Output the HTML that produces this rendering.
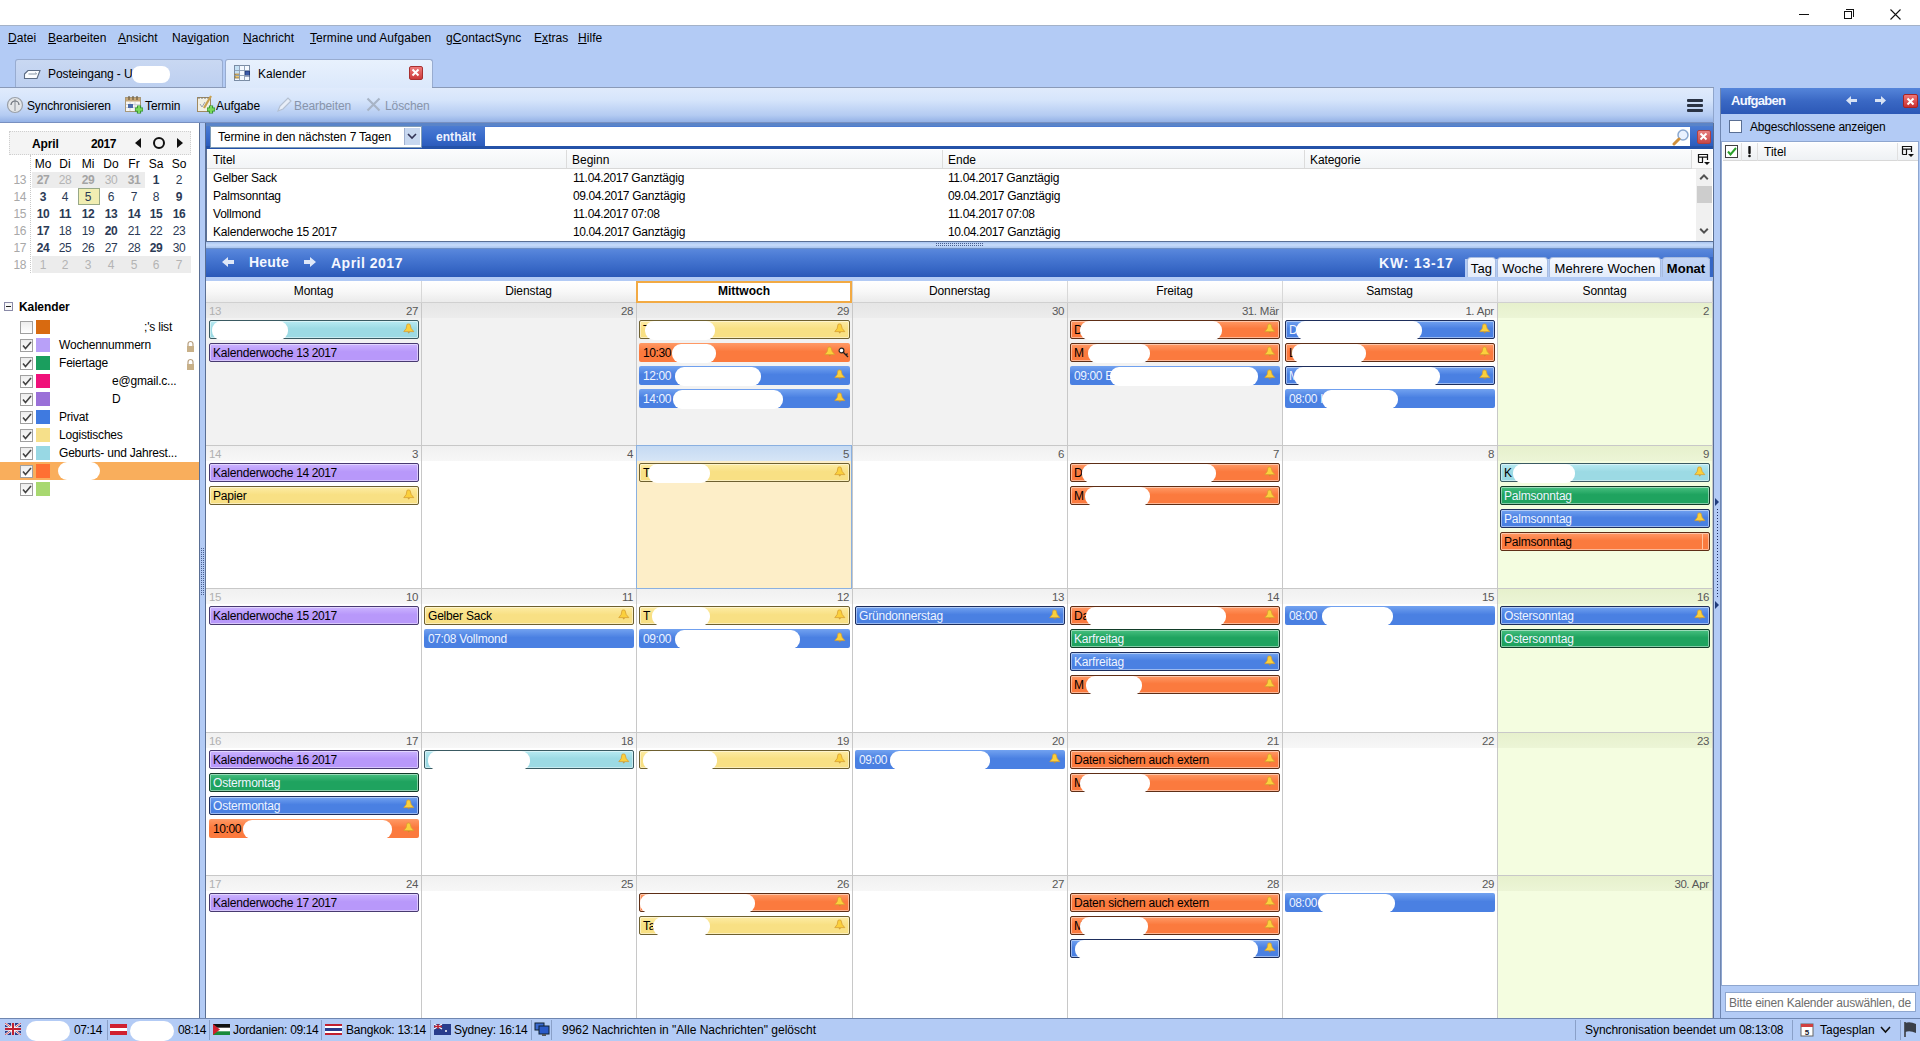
<!DOCTYPE html><html><head><meta charset="utf-8"><style>
*{margin:0;padding:0;box-sizing:border-box}
html,body{width:1920px;height:1041px;overflow:hidden;background:#fff;font-family:"Liberation Sans", sans-serif;font-size:12px;color:#000}
div{position:absolute}
.t{white-space:nowrap;line-height:14px;font-size:12px}
.e{letter-spacing:-0.2px}
.blob{background:#fff}
</style></head><body>
<div style="left:0px;top:0px;width:1920px;height:25px;background:#fff"></div>
<div style="left:1799px;top:14px;width:10px;height:1px;background:#111"></div>
<div style="left:1844px;top:11px;width:8px;height:8px;border:1px solid #111;background:#fff"></div>
<div style="left:1846px;top:9px;width:8px;height:8px;border-top:1px solid #111;border-right:1px solid #111"></div>
<svg style="position:absolute;left:1890px;top:9px" width="11" height="11" viewBox="0 0 11 11"><path d="M0.5 0.5L10.5 10.5M10.5 0.5L0.5 10.5" stroke="#111" stroke-width="1.1"/></svg>
<div style="left:0px;top:25px;width:1920px;height:63px;background:#b3cbf5;border-top:1px solid #a4b2c8"></div>
<div class="t" style="left:8px;top:31px;letter-spacing:0.05px"><u>D</u>atei</div>
<div class="t" style="left:48px;top:31px;letter-spacing:0.05px"><u>B</u>earbeiten</div>
<div class="t" style="left:118px;top:31px;letter-spacing:0.05px"><u>A</u>nsicht</div>
<div class="t" style="left:172px;top:31px;letter-spacing:0.05px">Na<u>v</u>igation</div>
<div class="t" style="left:243px;top:31px;letter-spacing:0.05px"><u>N</u>achricht</div>
<div class="t" style="left:310px;top:31px;letter-spacing:0.05px"><u>T</u>ermine und Aufgaben</div>
<div class="t" style="left:446px;top:31px;letter-spacing:0.05px">g<u>C</u>ontactSync</div>
<div class="t" style="left:534px;top:31px;letter-spacing:0.05px">E<u>x</u>tras</div>
<div class="t" style="left:578px;top:31px;letter-spacing:0.05px"><u>H</u>ilfe</div>
<div style="left:15px;top:59px;width:208px;height:29px;background:linear-gradient(#c9d8f2,#bccff0);border:1px solid #98acd0;border-bottom:none;border-radius:3px 3px 0 0"></div>
<div class="t" style="left:48px;top:67px;letter-spacing:-0.1px">Posteingang - U</div>
<div class="blob" style="left:132px;top:66px;width:38px;height:17px;border-radius:8px"></div>
<svg style="position:absolute;left:23px;top:69px" width="18" height="11" viewBox="0 0 18 11"><path d="M1.5 5L5 1.5H17L14 9.5H1.5Z" fill="#fbfdff" stroke="#5c6c84" stroke-width="1.1"/><path d="M5.5 5H13.5L12.5 3.5" fill="none" stroke="#8a98a8" stroke-width="1"/></svg>
<div style="left:225px;top:59px;width:208px;height:30px;background:linear-gradient(#e8f1fd,#dbe8fb);border:1px solid #98acd0;border-bottom:none;border-radius:3px 3px 0 0"></div>
<div class="t" style="left:258px;top:67px;">Kalender</div>
<svg style="position:absolute;left:233px;top:64px" width="18" height="18" viewBox="0 0 18 18"><rect x="1.5" y="1.5" width="15" height="15" fill="#f4f9ff" stroke="#7a8ca4"/><rect x="2" y="2" width="4.5" height="7" fill="#c4e0f4"/><rect x="12" y="7" width="4.5" height="5" fill="#3a5aa8" stroke="#1a2e6a" stroke-width="0.8"/><rect x="2" y="10" width="4.5" height="4" fill="#e8c878" stroke="#8a6a30" stroke-width="0.8"/><path d="M6.5 1.5V16.5M11.5 1.5V16.5M1.5 6.5H16.5M1.5 11.5H16.5" stroke="#8a9cb4" stroke-width="0.9"/></svg>
<div style="left:409px;top:66px;width:14px;height:14px;background:linear-gradient(#ee7a7a,#cc3a3a);border:1px solid #a83030;border-radius:2px"></div>
<svg style="position:absolute;left:411px;top:68px" width="9" height="9" viewBox="0 0 9 9"><path d="M1.5 1.5L7.5 7.5M7.5 1.5L1.5 7.5" stroke="#fff" stroke-width="2"/></svg>
<div style="left:0px;top:87px;width:1714px;height:36px;background:linear-gradient(#e0ebfc 0%,#d6e5fb 35%,#b4cbf2 80%,#94b2e6 100%);border-top:1px solid #8a9ab8;border-bottom:1px solid #7890c0"></div>
<div style="left:226px;top:87px;width:206px;height:1px;background:#dce9fb"></div>
<div class="t" style="left:27px;top:99px;color:#000;letter-spacing:-0.15px">Synchronisieren</div>
<div class="t" style="left:145px;top:99px;color:#000;letter-spacing:-0.1px">Termin</div>
<div class="t" style="left:216px;top:99px;color:#000;letter-spacing:-0.1px">Aufgabe</div>
<div class="t" style="left:294px;top:99px;color:#8794aa;letter-spacing:-0.1px">Bearbeiten</div>
<div class="t" style="left:385px;top:99px;color:#8794aa;letter-spacing:-0.1px">Löschen</div>
<svg style="position:absolute;left:6px;top:96px" width="18" height="18" viewBox="0 0 18 18"><circle cx="9" cy="9" r="7.5" fill="#e4e6e8" stroke="#9aa0a8" stroke-width="1.2"/><path d="M9 3V15" stroke="#8a9098" stroke-width="1"/><path d="M5 9A4 4 0 0 1 13 9" fill="none" stroke="#6a7078" stroke-width="1.2"/></svg>
<svg style="position:absolute;left:124px;top:95px" width="20" height="20" viewBox="0 0 20 20"><rect x="1.5" y="2.5" width="15" height="14" fill="#f8f8f4" stroke="#a89878"/><rect x="2" y="3" width="14" height="3.5" fill="#c8a878"/><path d="M5 1V5M9 1V5M13 1V5" stroke="#6a5a40" stroke-width="1.2"/><path d="M2 9.5H16M2 12.5H16M6 7V16M11 7V16" stroke="#c8ccd8" stroke-width="0.8"/><rect x="4" y="9" width="5" height="4" fill="#4a6aa8"/><path d="M15 10.5V18.5M11 14.5H19" stroke="#2a8a2a" stroke-width="4.2"/><path d="M15 11V18M11.5 14.5H18.5" stroke="#7ad85a" stroke-width="2.4"/></svg>
<svg style="position:absolute;left:196px;top:95px" width="20" height="20" viewBox="0 0 20 20"><rect x="1.5" y="2.5" width="13" height="14" fill="#f2f0e4" stroke="#a08a60"/><path d="M3 2V4M6 2V4M9 2V4M12 2V4" stroke="#777" stroke-width="1"/><path d="M4 9L6 12L9 7" fill="none" stroke="#9aa0b0" stroke-width="1"/><path d="M15 1L8 13" stroke="#c8a050" stroke-width="2.2"/><path d="M15 10.5V18.5M11 14.5H19" stroke="#2a8a2a" stroke-width="4.2"/><path d="M15 11V18M11.5 14.5H18.5" stroke="#7ad85a" stroke-width="2.4"/></svg>
<svg style="position:absolute;left:276px;top:96px" width="17" height="17" viewBox="0 0 17 17"><path d="M2 15L4 10L12 2L15 5L7 13Z" fill="#e8eef8" stroke="#b4c0d2" stroke-width="1.2"/></svg>
<svg style="position:absolute;left:366px;top:97px" width="15" height="15" viewBox="0 0 15 15"><path d="M1.5 1.5L13.5 13.5M13.5 1.5L1.5 13.5" stroke="#a8b4c6" stroke-width="2.2"/></svg>
<div style="left:1687px;top:99px;width:16px;height:3px;background:#2a3344;border-radius:1px"></div>
<div style="left:1687px;top:104px;width:16px;height:3px;background:#2a3344;border-radius:1px"></div>
<div style="left:1687px;top:109px;width:16px;height:3px;background:#2a3344;border-radius:1px"></div>
<div style="left:0px;top:123px;width:199px;height:895px;background:#fff"></div>
<div style="left:199px;top:123px;width:1px;height:895px;background:#5a6f94"></div>
<div style="left:200px;top:123px;width:5px;height:895px;background:#b3cbf5"></div>
<div style="left:205px;top:123px;width:1px;height:895px;background:#5a6f94"></div>
<svg style="position:absolute;left:200px;top:548px" width="5" height="47" viewBox="0 0 5 47"><defs><pattern id="gp" width="5" height="2" patternUnits="userSpaceOnUse"><rect x="1" y="0" width="1" height="1" fill="#4a5f90"/><rect x="3" y="0" width="1" height="1" fill="#4a5f90"/></pattern></defs><rect width="5" height="47" fill="url(#gp)"/></svg>
<div style="left:9px;top:131px;width:182px;height:24px;background:#f4f4f4;border:1px dotted #cfcfcf"></div>
<div class="t" style="left:32px;top:137px;font-weight:bold;letter-spacing:-0.1px">April</div>
<div class="t" style="left:91px;top:137px;font-weight:bold;letter-spacing:-0.4px">2017</div>
<svg style="position:absolute;left:134px;top:138px" width="8" height="10" viewBox="0 0 8 10"><path d="M7 0L1 5L7 10Z" fill="#111"/></svg>
<div style="left:153px;top:137px;width:12px;height:12px;border:2px solid #111;border-radius:50%"></div>
<svg style="position:absolute;left:176px;top:138px" width="8" height="10" viewBox="0 0 8 10"><path d="M1 0L7 5L1 10Z" fill="#111"/></svg>
<div class="t" style="left:33px;top:157px;width:20px;text-align:center">Mo</div>
<div class="t" style="left:55px;top:157px;width:20px;text-align:center">Di</div>
<div class="t" style="left:78px;top:157px;width:20px;text-align:center">Mi</div>
<div class="t" style="left:101px;top:157px;width:20px;text-align:center">Do</div>
<div class="t" style="left:124px;top:157px;width:20px;text-align:center">Fr</div>
<div class="t" style="left:146px;top:157px;width:20px;text-align:center">Sa</div>
<div class="t" style="left:169px;top:157px;width:20px;text-align:center">So</div>
<div style="left:30px;top:155px;width:1px;height:118px;border-left:1px dotted #c8c8c8"></div>
<div style="left:32px;top:172px;width:113px;height:16px;background:#ececec"></div>
<div style="left:32px;top:256px;width:159px;height:17px;background:#ececec"></div>
<div style="left:78px;top:188px;width:22px;height:17px;background:#f1eeb2;border:1px solid #98a888"></div>
<div class="t" style="left:8px;top:173px;width:18px;text-align:right;color:#a8a8a8;letter-spacing:-0.4px">13</div>
<div class="t" style="left:31px;top:173px;width:24px;text-align:center;color:#a4a4a4;font-weight:bold;letter-spacing:-0.3px">27</div>
<div class="t" style="left:53px;top:173px;width:24px;text-align:center;color:#b4b4b4;font-weight:normal;letter-spacing:-0.3px">28</div>
<div class="t" style="left:76px;top:173px;width:24px;text-align:center;color:#a4a4a4;font-weight:bold;letter-spacing:-0.3px">29</div>
<div class="t" style="left:99px;top:173px;width:24px;text-align:center;color:#b4b4b4;font-weight:normal;letter-spacing:-0.3px">30</div>
<div class="t" style="left:122px;top:173px;width:24px;text-align:center;color:#a4a4a4;font-weight:bold;letter-spacing:-0.3px">31</div>
<div class="t" style="left:144px;top:173px;width:24px;text-align:center;color:#2b3a55;font-weight:bold;letter-spacing:-0.3px">1</div>
<div class="t" style="left:167px;top:173px;width:24px;text-align:center;color:#2b3a55;font-weight:normal;letter-spacing:-0.3px">2</div>
<div class="t" style="left:8px;top:190px;width:18px;text-align:right;color:#a8a8a8;letter-spacing:-0.4px">14</div>
<div class="t" style="left:31px;top:190px;width:24px;text-align:center;color:#2b3a55;font-weight:bold;letter-spacing:-0.3px">3</div>
<div class="t" style="left:53px;top:190px;width:24px;text-align:center;color:#2b3a55;font-weight:normal;letter-spacing:-0.3px">4</div>
<div class="t" style="left:76px;top:190px;width:24px;text-align:center;color:#2b3a55;font-weight:normal;letter-spacing:-0.3px">5</div>
<div class="t" style="left:99px;top:190px;width:24px;text-align:center;color:#2b3a55;font-weight:normal;letter-spacing:-0.3px">6</div>
<div class="t" style="left:122px;top:190px;width:24px;text-align:center;color:#2b3a55;font-weight:normal;letter-spacing:-0.3px">7</div>
<div class="t" style="left:144px;top:190px;width:24px;text-align:center;color:#2b3a55;font-weight:normal;letter-spacing:-0.3px">8</div>
<div class="t" style="left:167px;top:190px;width:24px;text-align:center;color:#2b3a55;font-weight:bold;letter-spacing:-0.3px">9</div>
<div class="t" style="left:8px;top:207px;width:18px;text-align:right;color:#a8a8a8;letter-spacing:-0.4px">15</div>
<div class="t" style="left:31px;top:207px;width:24px;text-align:center;color:#2b3a55;font-weight:bold;letter-spacing:-0.3px">10</div>
<div class="t" style="left:53px;top:207px;width:24px;text-align:center;color:#2b3a55;font-weight:bold;letter-spacing:-0.3px">11</div>
<div class="t" style="left:76px;top:207px;width:24px;text-align:center;color:#2b3a55;font-weight:bold;letter-spacing:-0.3px">12</div>
<div class="t" style="left:99px;top:207px;width:24px;text-align:center;color:#2b3a55;font-weight:bold;letter-spacing:-0.3px">13</div>
<div class="t" style="left:122px;top:207px;width:24px;text-align:center;color:#2b3a55;font-weight:bold;letter-spacing:-0.3px">14</div>
<div class="t" style="left:144px;top:207px;width:24px;text-align:center;color:#2b3a55;font-weight:bold;letter-spacing:-0.3px">15</div>
<div class="t" style="left:167px;top:207px;width:24px;text-align:center;color:#2b3a55;font-weight:bold;letter-spacing:-0.3px">16</div>
<div class="t" style="left:8px;top:224px;width:18px;text-align:right;color:#a8a8a8;letter-spacing:-0.4px">16</div>
<div class="t" style="left:31px;top:224px;width:24px;text-align:center;color:#2b3a55;font-weight:bold;letter-spacing:-0.3px">17</div>
<div class="t" style="left:53px;top:224px;width:24px;text-align:center;color:#2b3a55;font-weight:normal;letter-spacing:-0.3px">18</div>
<div class="t" style="left:76px;top:224px;width:24px;text-align:center;color:#2b3a55;font-weight:normal;letter-spacing:-0.3px">19</div>
<div class="t" style="left:99px;top:224px;width:24px;text-align:center;color:#2b3a55;font-weight:bold;letter-spacing:-0.3px">20</div>
<div class="t" style="left:122px;top:224px;width:24px;text-align:center;color:#2b3a55;font-weight:normal;letter-spacing:-0.3px">21</div>
<div class="t" style="left:144px;top:224px;width:24px;text-align:center;color:#2b3a55;font-weight:normal;letter-spacing:-0.3px">22</div>
<div class="t" style="left:167px;top:224px;width:24px;text-align:center;color:#2b3a55;font-weight:normal;letter-spacing:-0.3px">23</div>
<div class="t" style="left:8px;top:241px;width:18px;text-align:right;color:#a8a8a8;letter-spacing:-0.4px">17</div>
<div class="t" style="left:31px;top:241px;width:24px;text-align:center;color:#2b3a55;font-weight:bold;letter-spacing:-0.3px">24</div>
<div class="t" style="left:53px;top:241px;width:24px;text-align:center;color:#2b3a55;font-weight:normal;letter-spacing:-0.3px">25</div>
<div class="t" style="left:76px;top:241px;width:24px;text-align:center;color:#2b3a55;font-weight:normal;letter-spacing:-0.3px">26</div>
<div class="t" style="left:99px;top:241px;width:24px;text-align:center;color:#2b3a55;font-weight:normal;letter-spacing:-0.3px">27</div>
<div class="t" style="left:122px;top:241px;width:24px;text-align:center;color:#2b3a55;font-weight:normal;letter-spacing:-0.3px">28</div>
<div class="t" style="left:144px;top:241px;width:24px;text-align:center;color:#2b3a55;font-weight:bold;letter-spacing:-0.3px">29</div>
<div class="t" style="left:167px;top:241px;width:24px;text-align:center;color:#2b3a55;font-weight:normal;letter-spacing:-0.3px">30</div>
<div class="t" style="left:8px;top:258px;width:18px;text-align:right;color:#a8a8a8;letter-spacing:-0.4px">18</div>
<div class="t" style="left:31px;top:258px;width:24px;text-align:center;color:#b4b4b4;font-weight:normal;letter-spacing:-0.3px">1</div>
<div class="t" style="left:53px;top:258px;width:24px;text-align:center;color:#b4b4b4;font-weight:normal;letter-spacing:-0.3px">2</div>
<div class="t" style="left:76px;top:258px;width:24px;text-align:center;color:#b4b4b4;font-weight:normal;letter-spacing:-0.3px">3</div>
<div class="t" style="left:99px;top:258px;width:24px;text-align:center;color:#b4b4b4;font-weight:normal;letter-spacing:-0.3px">4</div>
<div class="t" style="left:122px;top:258px;width:24px;text-align:center;color:#b4b4b4;font-weight:normal;letter-spacing:-0.3px">5</div>
<div class="t" style="left:144px;top:258px;width:24px;text-align:center;color:#b4b4b4;font-weight:normal;letter-spacing:-0.3px">6</div>
<div class="t" style="left:167px;top:258px;width:24px;text-align:center;color:#b4b4b4;font-weight:normal;letter-spacing:-0.3px">7</div>
<div style="left:4px;top:302px;width:9px;height:9px;border:1px solid #8a8aa8;background:#f8f8f8"></div>
<div style="left:6px;top:306px;width:5px;height:1px;background:#222"></div>
<div class="t" style="left:19px;top:300px;font-weight:bold;letter-spacing:-0.1px">Kalender</div>
<div style="left:20px;top:321px;width:13px;height:13px;border:1px solid #a0a0a0;background:linear-gradient(#ededed,#fff)"></div>
<div style="left:36px;top:320px;width:14px;height:14px;background:#d86a10"></div>
<div style="left:20px;top:339px;width:13px;height:13px;border:1px solid #a0a0a0;background:linear-gradient(#ededed,#fff)"></div>
<svg style="position:absolute;left:22px;top:341px" width="10" height="9" viewBox="0 0 10 9"><path d="M1 4.5L3.5 7.5L9 1" fill="none" stroke="#444" stroke-width="1.6"/></svg>
<div style="left:36px;top:338px;width:14px;height:14px;background:#b8a0f8"></div>
<div style="left:20px;top:357px;width:13px;height:13px;border:1px solid #a0a0a0;background:linear-gradient(#ededed,#fff)"></div>
<svg style="position:absolute;left:22px;top:359px" width="10" height="9" viewBox="0 0 10 9"><path d="M1 4.5L3.5 7.5L9 1" fill="none" stroke="#444" stroke-width="1.6"/></svg>
<div style="left:36px;top:356px;width:14px;height:14px;background:#1a9e5e"></div>
<div style="left:20px;top:375px;width:13px;height:13px;border:1px solid #a0a0a0;background:linear-gradient(#ededed,#fff)"></div>
<svg style="position:absolute;left:22px;top:377px" width="10" height="9" viewBox="0 0 10 9"><path d="M1 4.5L3.5 7.5L9 1" fill="none" stroke="#444" stroke-width="1.6"/></svg>
<div style="left:36px;top:374px;width:14px;height:14px;background:#f0107a"></div>
<div style="left:20px;top:393px;width:13px;height:13px;border:1px solid #a0a0a0;background:linear-gradient(#ededed,#fff)"></div>
<svg style="position:absolute;left:22px;top:395px" width="10" height="9" viewBox="0 0 10 9"><path d="M1 4.5L3.5 7.5L9 1" fill="none" stroke="#444" stroke-width="1.6"/></svg>
<div style="left:36px;top:392px;width:14px;height:14px;background:#9a70d8"></div>
<div style="left:20px;top:411px;width:13px;height:13px;border:1px solid #a0a0a0;background:linear-gradient(#ededed,#fff)"></div>
<svg style="position:absolute;left:22px;top:413px" width="10" height="9" viewBox="0 0 10 9"><path d="M1 4.5L3.5 7.5L9 1" fill="none" stroke="#444" stroke-width="1.6"/></svg>
<div style="left:36px;top:410px;width:14px;height:14px;background:#3f7ae0"></div>
<div style="left:20px;top:429px;width:13px;height:13px;border:1px solid #a0a0a0;background:linear-gradient(#ededed,#fff)"></div>
<svg style="position:absolute;left:22px;top:431px" width="10" height="9" viewBox="0 0 10 9"><path d="M1 4.5L3.5 7.5L9 1" fill="none" stroke="#444" stroke-width="1.6"/></svg>
<div style="left:36px;top:428px;width:14px;height:14px;background:#f6e08a"></div>
<div style="left:20px;top:447px;width:13px;height:13px;border:1px solid #a0a0a0;background:linear-gradient(#ededed,#fff)"></div>
<svg style="position:absolute;left:22px;top:449px" width="10" height="9" viewBox="0 0 10 9"><path d="M1 4.5L3.5 7.5L9 1" fill="none" stroke="#444" stroke-width="1.6"/></svg>
<div style="left:36px;top:446px;width:14px;height:14px;background:#98d8e4"></div>
<div style="left:0px;top:462px;width:199px;height:18px;background:#f9ae5c"></div>
<div style="left:20px;top:465px;width:13px;height:13px;border:1px solid #a0a0a0;background:linear-gradient(#ededed,#fff)"></div>
<svg style="position:absolute;left:22px;top:467px" width="10" height="9" viewBox="0 0 10 9"><path d="M1 4.5L3.5 7.5L9 1" fill="none" stroke="#444" stroke-width="1.6"/></svg>
<div style="left:36px;top:464px;width:14px;height:14px;background:#ff7033"></div>
<div style="left:20px;top:483px;width:13px;height:13px;border:1px solid #a0a0a0;background:linear-gradient(#ededed,#fff)"></div>
<svg style="position:absolute;left:22px;top:485px" width="10" height="9" viewBox="0 0 10 9"><path d="M1 4.5L3.5 7.5L9 1" fill="none" stroke="#444" stroke-width="1.6"/></svg>
<div style="left:36px;top:482px;width:14px;height:14px;background:#a8d870"></div>
<div class="t" style="left:144px;top:320px;letter-spacing:-0.2px">;'s list</div>
<div class="t" style="left:59px;top:338px;letter-spacing:-0.2px">Wochennummern</div>
<div class="t" style="left:59px;top:356px;letter-spacing:-0.2px">Feiertage</div>
<div class="t" style="left:112px;top:374px;letter-spacing:-0.2px">e@gmail.c...</div>
<div class="t" style="left:112px;top:392px;letter-spacing:-0.2px">D</div>
<div class="t" style="left:59px;top:410px;letter-spacing:-0.2px">Privat</div>
<div class="t" style="left:59px;top:428px;letter-spacing:-0.2px">Logistisches</div>
<div class="t" style="left:59px;top:446px;letter-spacing:-0.2px">Geburts- und Jahrest...</div>
<svg style="position:absolute;left:186px;top:340px" width="9" height="12" viewBox="0 0 9 12"><path d="M2 6V4A2.5 2.5 0 0 1 7 4V6" fill="none" stroke="#b8a080" stroke-width="1.2"/><rect x="1" y="6" width="7" height="6" fill="#c8b088"/></svg>
<svg style="position:absolute;left:186px;top:358px" width="9" height="12" viewBox="0 0 9 12"><path d="M2 6V4A2.5 2.5 0 0 1 7 4V6" fill="none" stroke="#b8a080" stroke-width="1.2"/><rect x="1" y="6" width="7" height="6" fill="#c8b088"/></svg>
<div class="blob" style="left:58px;top:462px;width:42px;height:18px;border-radius:9px"></div>
<div style="left:206px;top:123px;width:1508px;height:125px;background:#b3cbf5"></div>
<div style="left:206px;top:123px;width:1507px;height:26px;background:linear-gradient(#5a84c8 0,#5a84c8 3px,#4c7cd2 3px,#3a6ccc 50%,#2c5cbc 88%,#2452a8 88%)"></div>
<div style="left:210px;top:126px;width:212px;height:22px;background:#fff;border:1px solid #7f9db9"></div>
<div class="t e" style="left:218px;top:130px;letter-spacing:-0.1px">Termine in den nächsten <span style="letter-spacing:-0.45px">7</span> Tagen</div>
<div style="left:404px;top:128px;width:16px;height:17px;background:#c8d8f0;border-left:1px solid #a0b0d0"></div>
<svg style="position:absolute;left:407px;top:133px" width="10" height="7" viewBox="0 0 10 7"><path d="M1 1L5 5L9 1" fill="none" stroke="#335" stroke-width="1.6"/></svg>
<div class="t" style="left:436px;top:130px;font-weight:bold;color:#eef3ff;letter-spacing:0.05px">enthält</div>
<div style="left:485px;top:127px;width:1205px;height:19px;background:#fff"></div>
<svg style="position:absolute;left:1672px;top:128px" width="18" height="18" viewBox="0 0 18 18"><circle cx="11" cy="7" r="5" fill="#eaf2ff" stroke="#8aa8d0" stroke-width="1.5"/><path d="M7 11L2 16" stroke="#d0903a" stroke-width="3" stroke-linecap="round"/></svg>
<div style="left:1697px;top:130px;width:14px;height:14px;background:linear-gradient(#e88080,#c84848);border:1px solid #b04040;border-radius:2px"></div>
<svg style="position:absolute;left:1699px;top:132px" width="9" height="9" viewBox="0 0 9 9"><path d="M1.5 1.5L7.5 7.5M7.5 1.5L1.5 7.5" stroke="#fff" stroke-width="2"/></svg>
<div style="left:206px;top:149px;width:1507px;height:93px;background:#fff;border-left:1px solid #5a6f94;border-bottom:1px solid #5a6f94"></div>
<div style="left:207px;top:150px;width:1489px;height:19px;background:linear-gradient(#fbfcfd,#f2f4f6);border-bottom:1px solid #d8d8d8"></div>
<div style="left:1692px;top:150px;width:20px;height:19px;background:#fafafa;border-bottom:1px solid #e4e4e4"></div>
<div style="left:566px;top:150px;width:1px;height:18px;background:#dcdcdc"></div>
<div style="left:942px;top:150px;width:1px;height:18px;background:#dcdcdc"></div>
<div style="left:1304px;top:150px;width:1px;height:18px;background:#dcdcdc"></div>
<div style="left:1691px;top:150px;width:1px;height:18px;background:#dcdcdc"></div>
<div class="t" style="left:213px;top:153px;">Titel</div>
<div class="t" style="left:572px;top:153px;">Beginn</div>
<div class="t" style="left:948px;top:153px;">Ende</div>
<div class="t" style="left:1310px;top:153px;letter-spacing:-0.1px">Kategorie</div>
<svg style="position:absolute;left:1697px;top:153px" width="14" height="14" viewBox="0 0 14 14"><path d="M1.5 9.5V1.5H10.5V7" fill="none" stroke="#111" stroke-width="1.2"/><path d="M1 4.2H11M5.5 4V9.5M1.5 9.5H6" stroke="#111" stroke-width="1.2"/><path d="M7 9H13L10 12Z" fill="#111"/></svg>
<div class="t e" style="left:213px;top:171px;">Gelber Sack</div>
<div class="t e" style="left:573px;top:171px;"><span style="letter-spacing:-0.45px">11</span>.<span style="letter-spacing:-0.45px">04</span>.<span style="letter-spacing:-0.45px">2017</span> Ganztägig</div>
<div class="t e" style="left:948px;top:171px;"><span style="letter-spacing:-0.45px">11</span>.<span style="letter-spacing:-0.45px">04</span>.<span style="letter-spacing:-0.45px">2017</span> Ganztägig</div>
<div class="t e" style="left:213px;top:189px;">Palmsonntag</div>
<div class="t e" style="left:573px;top:189px;"><span style="letter-spacing:-0.45px">09</span>.<span style="letter-spacing:-0.45px">04</span>.<span style="letter-spacing:-0.45px">2017</span> Ganztägig</div>
<div class="t e" style="left:948px;top:189px;"><span style="letter-spacing:-0.45px">09</span>.<span style="letter-spacing:-0.45px">04</span>.<span style="letter-spacing:-0.45px">2017</span> Ganztägig</div>
<div class="t e" style="left:213px;top:207px;">Vollmond</div>
<div class="t e" style="left:573px;top:207px;"><span style="letter-spacing:-0.45px">11</span>.<span style="letter-spacing:-0.45px">04</span>.<span style="letter-spacing:-0.45px">2017</span> <span style="letter-spacing:-0.45px">07</span>:<span style="letter-spacing:-0.45px">08</span></div>
<div class="t e" style="left:948px;top:207px;"><span style="letter-spacing:-0.45px">11</span>.<span style="letter-spacing:-0.45px">04</span>.<span style="letter-spacing:-0.45px">2017</span> <span style="letter-spacing:-0.45px">07</span>:<span style="letter-spacing:-0.45px">08</span></div>
<div class="t e" style="left:213px;top:225px;">Kalenderwoche <span style="letter-spacing:-0.45px">15</span> <span style="letter-spacing:-0.45px">2017</span></div>
<div class="t e" style="left:573px;top:225px;"><span style="letter-spacing:-0.45px">10</span>.<span style="letter-spacing:-0.45px">04</span>.<span style="letter-spacing:-0.45px">2017</span> Ganztägig</div>
<div class="t e" style="left:948px;top:225px;"><span style="letter-spacing:-0.45px">10</span>.<span style="letter-spacing:-0.45px">04</span>.<span style="letter-spacing:-0.45px">2017</span> Ganztägig</div>
<div style="left:1696px;top:169px;width:16px;height:72px;background:#f0f0f0"></div>
<div style="left:1697px;top:186px;width:15px;height:17px;background:#cdcdcd"></div>
<svg style="position:absolute;left:1699px;top:173px" width="10" height="8" viewBox="0 0 10 8"><path d="M1.2 6.2L5 2.4L8.8 6.2" fill="none" stroke="#505050" stroke-width="2"/></svg>
<svg style="position:absolute;left:1699px;top:227px" width="10" height="8" viewBox="0 0 10 8"><path d="M1.2 1.8L5 5.6L8.8 1.8" fill="none" stroke="#505050" stroke-width="2"/></svg>
<div style="left:206px;top:242px;width:1507px;height:6px;background:linear-gradient(#a8c4f0,#c8dcfa 50%,#a8c4f0)"></div>
<svg style="position:absolute;left:936px;top:243px" width="48" height="3" viewBox="0 0 48 3"><defs><pattern id="hp" width="2" height="2" patternUnits="userSpaceOnUse"><rect x="0" y="0" width="1" height="1" fill="#4a5f90"/></pattern></defs><rect width="48" height="3" fill="url(#hp)"/></svg>
<div style="left:206px;top:248px;width:1507px;height:29px;background:linear-gradient(#6f8fc4 0,#6f8fc4 1px,#5a88dc 1px,#4a7ad4 30%,#3868c6 70%,#2a58b8 100%)"></div>
<svg style="position:absolute;left:221px;top:256px" width="14" height="12" viewBox="0 0 14 12"><path d="M1 6L7 1V4H13V8H7V11Z" fill="#dfe8f8"/></svg>
<div class="t" style="left:249px;top:254px;font-weight:bold;color:#f4f7ff;font-size:14px;line-height:16px;letter-spacing:0.2px">Heute</div>
<svg style="position:absolute;left:303px;top:256px" width="14" height="12" viewBox="0 0 14 12"><path d="M13 6L7 1V4H1V8H7V11Z" fill="#dfe8f8"/></svg>
<div class="t" style="left:331px;top:255px;font-weight:bold;color:#f4f7ff;font-size:14px;line-height:16px;letter-spacing:0.5px">April 2017</div>
<div class="t" style="left:1379px;top:255px;font-weight:bold;color:#f4f7ff;font-size:14px;line-height:16px;letter-spacing:0.8px">KW: 13-17</div>
<div style="left:1465px;top:259px;width:248px;height:19px;background:#b3cbf5"></div>
<div style="left:1710px;top:257px;width:3px;height:20px;background:#3566c6"></div>
<div style="left:1467px;top:257px;width:29px;height:21px;background:linear-gradient(#f6f9ff,#e2ebfa);border:1px solid #a8bce0;border-bottom:none;border-radius:4px 4px 0 0"></div>
<div class="t" style="left:1467px;top:261px;width:29px;text-align:center;line-height:15px;font-size:13px;letter-spacing:0.1px">Tag</div>
<div style="left:1497px;top:257px;width:51px;height:21px;background:linear-gradient(#f6f9ff,#e2ebfa);border:1px solid #a8bce0;border-bottom:none;border-radius:4px 4px 0 0"></div>
<div class="t" style="left:1497px;top:261px;width:51px;text-align:center;line-height:15px;font-size:13px;letter-spacing:0.1px">Woche</div>
<div style="left:1549px;top:257px;width:112px;height:21px;background:linear-gradient(#f6f9ff,#e2ebfa);border:1px solid #a8bce0;border-bottom:none;border-radius:4px 4px 0 0"></div>
<div class="t" style="left:1549px;top:261px;width:112px;text-align:center;line-height:15px;font-size:13px;letter-spacing:0.1px">Mehrere Wochen</div>
<div style="left:1662px;top:257px;width:48px;height:21px;background:linear-gradient(#c4d6f6,#b4ccf2);border:1px solid #a8bce0;border-bottom:none;border-radius:4px 4px 0 0"></div>
<div class="t" style="left:1662px;top:261px;width:48px;text-align:center;line-height:15px;font-weight:bold;font-size:13px">Monat</div>
<div style="left:206px;top:277px;width:1507px;height:4px;background:#b3cbf5"></div>
<div style="left:206px;top:281px;width:1507px;height:22px;background:linear-gradient(#fff,#f8f8f8 50%,#ebebeb);border-bottom:1px solid #d0d0d0"></div>
<div class="t" style="left:206px;top:284px;width:215px;text-align:center;letter-spacing:-0.1px">Montag</div>
<div style="left:421px;top:281px;width:1px;height:21px;background:#d8d8d8"></div>
<div class="t" style="left:421px;top:284px;width:215px;text-align:center;letter-spacing:-0.1px">Dienstag</div>
<div style="left:636px;top:281px;width:1px;height:21px;background:#d8d8d8"></div>
<div style="left:636px;top:281px;width:216px;height:22px;border:2px solid #f2aa44;background:#fff"></div>
<div class="t" style="left:636px;top:284px;width:216px;text-align:center;font-weight:bold">Mittwoch</div>
<div style="left:852px;top:281px;width:1px;height:21px;background:#d8d8d8"></div>
<div class="t" style="left:852px;top:284px;width:215px;text-align:center;letter-spacing:-0.1px">Donnerstag</div>
<div style="left:1067px;top:281px;width:1px;height:21px;background:#d8d8d8"></div>
<div class="t" style="left:1067px;top:284px;width:215px;text-align:center;letter-spacing:-0.1px">Freitag</div>
<div style="left:1282px;top:281px;width:1px;height:21px;background:#d8d8d8"></div>
<div class="t" style="left:1282px;top:284px;width:215px;text-align:center;letter-spacing:-0.1px">Samstag</div>
<div style="left:1497px;top:281px;width:1px;height:21px;background:#d8d8d8"></div>
<div class="t" style="left:1497px;top:284px;width:215px;text-align:center;letter-spacing:-0.1px">Sonntag</div>
<div style="left:206px;top:302px;width:215px;height:143px;background:#f2f2f2"></div>
<div style="left:206px;top:302px;width:215px;height:16px;background:linear-gradient(#e5e5e5,#ececec)"></div>
<div style="left:421px;top:302px;width:215px;height:143px;background:#f2f2f2"></div>
<div style="left:421px;top:302px;width:215px;height:16px;background:linear-gradient(#e5e5e5,#ececec)"></div>
<div style="left:636px;top:302px;width:216px;height:143px;background:#f2f2f2"></div>
<div style="left:636px;top:302px;width:216px;height:16px;background:linear-gradient(#e5e5e5,#ececec)"></div>
<div style="left:852px;top:302px;width:215px;height:143px;background:#f2f2f2"></div>
<div style="left:852px;top:302px;width:215px;height:16px;background:linear-gradient(#e5e5e5,#ececec)"></div>
<div style="left:1067px;top:302px;width:215px;height:143px;background:#f2f2f2"></div>
<div style="left:1067px;top:302px;width:215px;height:16px;background:linear-gradient(#e5e5e5,#ececec)"></div>
<div style="left:1282px;top:302px;width:215px;height:143px;background:#fff"></div>
<div style="left:1282px;top:302px;width:215px;height:16px;background:linear-gradient(#f0f0f0,#f7f7f7)"></div>
<div style="left:1497px;top:302px;width:215px;height:143px;background:#f4fde0"></div>
<div style="left:1497px;top:302px;width:215px;height:16px;background:linear-gradient(#e6f0cc,#ecf5d6)"></div>
<div style="left:206px;top:445px;width:215px;height:143px;background:#fff"></div>
<div style="left:206px;top:445px;width:215px;height:16px;background:linear-gradient(#f0f0f0,#f7f7f7)"></div>
<div style="left:421px;top:445px;width:215px;height:143px;background:#fff"></div>
<div style="left:421px;top:445px;width:215px;height:16px;background:linear-gradient(#f0f0f0,#f7f7f7)"></div>
<div style="left:636px;top:445px;width:216px;height:143px;background:#fdeec8"></div>
<div style="left:636px;top:445px;width:216px;height:16px;background:linear-gradient(#c4d9f2,#d6e5f6)"></div>
<div style="left:852px;top:445px;width:215px;height:143px;background:#fff"></div>
<div style="left:852px;top:445px;width:215px;height:16px;background:linear-gradient(#f0f0f0,#f7f7f7)"></div>
<div style="left:1067px;top:445px;width:215px;height:143px;background:#fff"></div>
<div style="left:1067px;top:445px;width:215px;height:16px;background:linear-gradient(#f0f0f0,#f7f7f7)"></div>
<div style="left:1282px;top:445px;width:215px;height:143px;background:#fff"></div>
<div style="left:1282px;top:445px;width:215px;height:16px;background:linear-gradient(#f0f0f0,#f7f7f7)"></div>
<div style="left:1497px;top:445px;width:215px;height:143px;background:#f4fde0"></div>
<div style="left:1497px;top:445px;width:215px;height:16px;background:linear-gradient(#e6f0cc,#ecf5d6)"></div>
<div style="left:206px;top:588px;width:215px;height:144px;background:#fff"></div>
<div style="left:206px;top:588px;width:215px;height:16px;background:linear-gradient(#f0f0f0,#f7f7f7)"></div>
<div style="left:421px;top:588px;width:215px;height:144px;background:#fff"></div>
<div style="left:421px;top:588px;width:215px;height:16px;background:linear-gradient(#f0f0f0,#f7f7f7)"></div>
<div style="left:636px;top:588px;width:216px;height:144px;background:#fff"></div>
<div style="left:636px;top:588px;width:216px;height:16px;background:linear-gradient(#f0f0f0,#f7f7f7)"></div>
<div style="left:852px;top:588px;width:215px;height:144px;background:#fff"></div>
<div style="left:852px;top:588px;width:215px;height:16px;background:linear-gradient(#f0f0f0,#f7f7f7)"></div>
<div style="left:1067px;top:588px;width:215px;height:144px;background:#fff"></div>
<div style="left:1067px;top:588px;width:215px;height:16px;background:linear-gradient(#f0f0f0,#f7f7f7)"></div>
<div style="left:1282px;top:588px;width:215px;height:144px;background:#fff"></div>
<div style="left:1282px;top:588px;width:215px;height:16px;background:linear-gradient(#f0f0f0,#f7f7f7)"></div>
<div style="left:1497px;top:588px;width:215px;height:144px;background:#f4fde0"></div>
<div style="left:1497px;top:588px;width:215px;height:16px;background:linear-gradient(#e6f0cc,#ecf5d6)"></div>
<div style="left:206px;top:732px;width:215px;height:143px;background:#fff"></div>
<div style="left:206px;top:732px;width:215px;height:16px;background:linear-gradient(#f0f0f0,#f7f7f7)"></div>
<div style="left:421px;top:732px;width:215px;height:143px;background:#fff"></div>
<div style="left:421px;top:732px;width:215px;height:16px;background:linear-gradient(#f0f0f0,#f7f7f7)"></div>
<div style="left:636px;top:732px;width:216px;height:143px;background:#fff"></div>
<div style="left:636px;top:732px;width:216px;height:16px;background:linear-gradient(#f0f0f0,#f7f7f7)"></div>
<div style="left:852px;top:732px;width:215px;height:143px;background:#fff"></div>
<div style="left:852px;top:732px;width:215px;height:16px;background:linear-gradient(#f0f0f0,#f7f7f7)"></div>
<div style="left:1067px;top:732px;width:215px;height:143px;background:#fff"></div>
<div style="left:1067px;top:732px;width:215px;height:16px;background:linear-gradient(#f0f0f0,#f7f7f7)"></div>
<div style="left:1282px;top:732px;width:215px;height:143px;background:#fff"></div>
<div style="left:1282px;top:732px;width:215px;height:16px;background:linear-gradient(#f0f0f0,#f7f7f7)"></div>
<div style="left:1497px;top:732px;width:215px;height:143px;background:#f4fde0"></div>
<div style="left:1497px;top:732px;width:215px;height:16px;background:linear-gradient(#e6f0cc,#ecf5d6)"></div>
<div style="left:206px;top:875px;width:215px;height:143px;background:#fff"></div>
<div style="left:206px;top:875px;width:215px;height:16px;background:linear-gradient(#f0f0f0,#f7f7f7)"></div>
<div style="left:421px;top:875px;width:215px;height:143px;background:#fff"></div>
<div style="left:421px;top:875px;width:215px;height:16px;background:linear-gradient(#f0f0f0,#f7f7f7)"></div>
<div style="left:636px;top:875px;width:216px;height:143px;background:#fff"></div>
<div style="left:636px;top:875px;width:216px;height:16px;background:linear-gradient(#f0f0f0,#f7f7f7)"></div>
<div style="left:852px;top:875px;width:215px;height:143px;background:#fff"></div>
<div style="left:852px;top:875px;width:215px;height:16px;background:linear-gradient(#f0f0f0,#f7f7f7)"></div>
<div style="left:1067px;top:875px;width:215px;height:143px;background:#fff"></div>
<div style="left:1067px;top:875px;width:215px;height:16px;background:linear-gradient(#f0f0f0,#f7f7f7)"></div>
<div style="left:1282px;top:875px;width:215px;height:143px;background:#fff"></div>
<div style="left:1282px;top:875px;width:215px;height:16px;background:linear-gradient(#f0f0f0,#f7f7f7)"></div>
<div style="left:1497px;top:875px;width:215px;height:143px;background:#f4fde0"></div>
<div style="left:1497px;top:875px;width:215px;height:16px;background:linear-gradient(#e6f0cc,#ecf5d6)"></div>
<div style="left:421px;top:302px;width:1px;height:716px;background:#c8c8c8"></div>
<div style="left:636px;top:302px;width:1px;height:716px;background:#c8c8c8"></div>
<div style="left:852px;top:302px;width:1px;height:716px;background:#c8c8c8"></div>
<div style="left:1067px;top:302px;width:1px;height:716px;background:#c8c8c8"></div>
<div style="left:1282px;top:302px;width:1px;height:716px;background:#c8c8c8"></div>
<div style="left:1497px;top:302px;width:1px;height:716px;background:#c8c8c8"></div>
<div style="left:206px;top:445px;width:1507px;height:1px;background:#c8c8c8"></div>
<div style="left:206px;top:588px;width:1507px;height:1px;background:#c8c8c8"></div>
<div style="left:206px;top:732px;width:1507px;height:1px;background:#c8c8c8"></div>
<div style="left:206px;top:875px;width:1507px;height:1px;background:#c8c8c8"></div>
<div style="left:1712px;top:281px;width:1px;height:737px;background:#c8c8c8"></div>
<div style="left:1713px;top:123px;width:1px;height:895px;background:#5a6f94"></div>
<div style="left:206px;top:302px;width:1507px;height:1px;background:#d0d0d0"></div>
<div style="left:636px;top:281px;width:216px;height:22px;border:2px solid #f2aa44;background:transparent"></div>
<div style="left:636px;top:445px;width:216px;height:144px;border:1px solid #8ab0e0;background:transparent"></div>
<div class="t e" style="left:209px;top:304px;color:#b0b0b0;font-size:11.5px"><span style="letter-spacing:-0.45px">13</span></div>
<div class="t e" style="left:318px;top:304px;width:100px;text-align:right;color:#585858;font-size:11.5px"><span style="letter-spacing:-0.45px">27</span></div>
<div class="t e" style="left:533px;top:304px;width:100px;text-align:right;color:#585858;font-size:11.5px"><span style="letter-spacing:-0.45px">28</span></div>
<div class="t e" style="left:749px;top:304px;width:100px;text-align:right;color:#585858;font-size:11.5px"><span style="letter-spacing:-0.45px">29</span></div>
<div class="t e" style="left:964px;top:304px;width:100px;text-align:right;color:#585858;font-size:11.5px"><span style="letter-spacing:-0.45px">30</span></div>
<div class="t e" style="left:1179px;top:304px;width:100px;text-align:right;color:#585858;font-size:11.5px"><span style="letter-spacing:-0.45px">31</span>. Mär</div>
<div class="t e" style="left:1394px;top:304px;width:100px;text-align:right;color:#585858;font-size:11.5px"><span style="letter-spacing:-0.45px">1</span>. Apr</div>
<div class="t e" style="left:1609px;top:304px;width:100px;text-align:right;color:#585858;font-size:11.5px"><span style="letter-spacing:-0.45px">2</span></div>
<div class="t e" style="left:209px;top:447px;color:#b0b0b0;font-size:11.5px"><span style="letter-spacing:-0.45px">14</span></div>
<div class="t e" style="left:318px;top:447px;width:100px;text-align:right;color:#585858;font-size:11.5px"><span style="letter-spacing:-0.45px">3</span></div>
<div class="t e" style="left:533px;top:447px;width:100px;text-align:right;color:#585858;font-size:11.5px"><span style="letter-spacing:-0.45px">4</span></div>
<div class="t e" style="left:749px;top:447px;width:100px;text-align:right;color:#585858;font-size:11.5px"><span style="letter-spacing:-0.45px">5</span></div>
<div class="t e" style="left:964px;top:447px;width:100px;text-align:right;color:#585858;font-size:11.5px"><span style="letter-spacing:-0.45px">6</span></div>
<div class="t e" style="left:1179px;top:447px;width:100px;text-align:right;color:#585858;font-size:11.5px"><span style="letter-spacing:-0.45px">7</span></div>
<div class="t e" style="left:1394px;top:447px;width:100px;text-align:right;color:#585858;font-size:11.5px"><span style="letter-spacing:-0.45px">8</span></div>
<div class="t e" style="left:1609px;top:447px;width:100px;text-align:right;color:#585858;font-size:11.5px"><span style="letter-spacing:-0.45px">9</span></div>
<div class="t e" style="left:209px;top:590px;color:#b0b0b0;font-size:11.5px"><span style="letter-spacing:-0.45px">15</span></div>
<div class="t e" style="left:318px;top:590px;width:100px;text-align:right;color:#585858;font-size:11.5px"><span style="letter-spacing:-0.45px">10</span></div>
<div class="t e" style="left:533px;top:590px;width:100px;text-align:right;color:#585858;font-size:11.5px"><span style="letter-spacing:-0.45px">11</span></div>
<div class="t e" style="left:749px;top:590px;width:100px;text-align:right;color:#585858;font-size:11.5px"><span style="letter-spacing:-0.45px">12</span></div>
<div class="t e" style="left:964px;top:590px;width:100px;text-align:right;color:#585858;font-size:11.5px"><span style="letter-spacing:-0.45px">13</span></div>
<div class="t e" style="left:1179px;top:590px;width:100px;text-align:right;color:#585858;font-size:11.5px"><span style="letter-spacing:-0.45px">14</span></div>
<div class="t e" style="left:1394px;top:590px;width:100px;text-align:right;color:#585858;font-size:11.5px"><span style="letter-spacing:-0.45px">15</span></div>
<div class="t e" style="left:1609px;top:590px;width:100px;text-align:right;color:#585858;font-size:11.5px"><span style="letter-spacing:-0.45px">16</span></div>
<div class="t e" style="left:209px;top:734px;color:#b0b0b0;font-size:11.5px"><span style="letter-spacing:-0.45px">16</span></div>
<div class="t e" style="left:318px;top:734px;width:100px;text-align:right;color:#585858;font-size:11.5px"><span style="letter-spacing:-0.45px">17</span></div>
<div class="t e" style="left:533px;top:734px;width:100px;text-align:right;color:#585858;font-size:11.5px"><span style="letter-spacing:-0.45px">18</span></div>
<div class="t e" style="left:749px;top:734px;width:100px;text-align:right;color:#585858;font-size:11.5px"><span style="letter-spacing:-0.45px">19</span></div>
<div class="t e" style="left:964px;top:734px;width:100px;text-align:right;color:#585858;font-size:11.5px"><span style="letter-spacing:-0.45px">20</span></div>
<div class="t e" style="left:1179px;top:734px;width:100px;text-align:right;color:#585858;font-size:11.5px"><span style="letter-spacing:-0.45px">21</span></div>
<div class="t e" style="left:1394px;top:734px;width:100px;text-align:right;color:#585858;font-size:11.5px"><span style="letter-spacing:-0.45px">22</span></div>
<div class="t e" style="left:1609px;top:734px;width:100px;text-align:right;color:#585858;font-size:11.5px"><span style="letter-spacing:-0.45px">23</span></div>
<div class="t e" style="left:209px;top:877px;color:#b0b0b0;font-size:11.5px"><span style="letter-spacing:-0.45px">17</span></div>
<div class="t e" style="left:318px;top:877px;width:100px;text-align:right;color:#585858;font-size:11.5px"><span style="letter-spacing:-0.45px">24</span></div>
<div class="t e" style="left:533px;top:877px;width:100px;text-align:right;color:#585858;font-size:11.5px"><span style="letter-spacing:-0.45px">25</span></div>
<div class="t e" style="left:749px;top:877px;width:100px;text-align:right;color:#585858;font-size:11.5px"><span style="letter-spacing:-0.45px">26</span></div>
<div class="t e" style="left:964px;top:877px;width:100px;text-align:right;color:#585858;font-size:11.5px"><span style="letter-spacing:-0.45px">27</span></div>
<div class="t e" style="left:1179px;top:877px;width:100px;text-align:right;color:#585858;font-size:11.5px"><span style="letter-spacing:-0.45px">28</span></div>
<div class="t e" style="left:1394px;top:877px;width:100px;text-align:right;color:#585858;font-size:11.5px"><span style="letter-spacing:-0.45px">29</span></div>
<div class="t e" style="left:1609px;top:877px;width:100px;text-align:right;color:#585858;font-size:11.5px"><span style="letter-spacing:-0.45px">30</span>. Apr</div>
<div style="left:209px;top:320px;width:210px;height:19px;background:linear-gradient(#b8eaf2,#9cdae4 45%,#9cdae4);border:1px solid #3a5a62;border-radius:2px;box-shadow:inset 0 0 0 1px rgba(255,255,255,0.45)"></div>
<svg style="position:absolute;left:403px;top:323px" width="12" height="12" viewBox="0 0 12 12"><path d="M4 1.3Q5.5 0.6 7 1.3L8.2 5.5L10.8 8.6H0.8L3.2 5.5Z" fill="#fbd03c" stroke="#d8a030" stroke-width="0.8"/><path d="M4.5 9.2H7L5.8 10.6Z" fill="#c89020"/></svg>
<div class="blob" style="left:212px;top:321px;width:76px;height:19px;border-radius:9px"></div>
<div style="left:209px;top:343px;width:210px;height:19px;background:linear-gradient(#ccb4ff,#b898fa 45%,#b898fa);border:1px solid #483a70;border-radius:2px;box-shadow:inset 0 0 0 1px rgba(255,255,255,0.45)"></div>
<div class="t e" style="left:213px;top:346px;color:#000">Kalenderwoche <span style="letter-spacing:-0.45px">13</span> <span style="letter-spacing:-0.45px">2017</span></div>
<div style="left:639px;top:320px;width:211px;height:19px;background:linear-gradient(#fdeca4,#f8e084 45%,#f8e084);border:1px solid #6e6030;border-radius:2px;box-shadow:inset 0 0 0 1px rgba(255,255,255,0.45)"></div>
<div class="t e" style="left:643px;top:323px;color:#000">T</div>
<svg style="position:absolute;left:834px;top:323px" width="12" height="12" viewBox="0 0 12 12"><path d="M4 1.3Q5.5 0.6 7 1.3L8.2 5.5L10.8 8.6H0.8L3.2 5.5Z" fill="#fbd03c" stroke="#d8a030" stroke-width="0.8"/><path d="M4.5 9.2H7L5.8 10.6Z" fill="#c89020"/></svg>
<div class="blob" style="left:645px;top:321px;width:70px;height:19px;border-radius:9px"></div>
<div style="left:639px;top:343px;width:211px;height:19px;background:linear-gradient(#ff9a66,#fb7a3e 45%,#fb7a3e);border-radius:2px"></div>
<div class="t e" style="left:643px;top:346px;color:#000"><span style="letter-spacing:-0.45px">10</span>:<span style="letter-spacing:-0.45px">30</span></div>
<svg style="position:absolute;left:824px;top:346px" width="12" height="12" viewBox="0 0 12 12"><path d="M4 1.3Q5.5 0.6 7 1.3L8.2 5.5L10.8 8.6H0.8L3.2 5.5Z" fill="#fbd03c" stroke="#d8a030" stroke-width="0.8"/><path d="M4.5 9.2H7L5.8 10.6Z" fill="#c89020"/></svg>
<svg style="position:absolute;left:838px;top:347px" width="11" height="11" viewBox="0 0 11 11"><circle cx="3.5" cy="3.5" r="2.4" fill="#fff" stroke="#222" stroke-width="1.2"/><path d="M5 5L10 10M8 8L9.5 6.5" stroke="#222" stroke-width="1.4"/></svg>
<div class="blob" style="left:672px;top:344px;width:44px;height:19px;border-radius:9px"></div>
<div style="left:639px;top:366px;width:211px;height:19px;background:linear-gradient(#72a2f0,#4a80e2 45%,#4a80e2);border-radius:2px"></div>
<div class="t e" style="left:643px;top:369px;color:#eef4ff"><span style="letter-spacing:-0.45px">12</span>:<span style="letter-spacing:-0.45px">00</span></div>
<svg style="position:absolute;left:834px;top:369px" width="12" height="12" viewBox="0 0 12 12"><path d="M4 1.3Q5.5 0.6 7 1.3L8.2 5.5L10.8 8.6H0.8L3.2 5.5Z" fill="#fbd03c" stroke="#d8a030" stroke-width="0.8"/><path d="M4.5 9.2H7L5.8 10.6Z" fill="#c89020"/></svg>
<div class="blob" style="left:675px;top:367px;width:86px;height:19px;border-radius:9px"></div>
<div style="left:639px;top:389px;width:211px;height:19px;background:linear-gradient(#72a2f0,#4a80e2 45%,#4a80e2);border-radius:2px"></div>
<div class="t e" style="left:643px;top:392px;color:#eef4ff"><span style="letter-spacing:-0.45px">14</span>:<span style="letter-spacing:-0.45px">00</span></div>
<svg style="position:absolute;left:834px;top:392px" width="12" height="12" viewBox="0 0 12 12"><path d="M4 1.3Q5.5 0.6 7 1.3L8.2 5.5L10.8 8.6H0.8L3.2 5.5Z" fill="#fbd03c" stroke="#d8a030" stroke-width="0.8"/><path d="M4.5 9.2H7L5.8 10.6Z" fill="#c89020"/></svg>
<div class="blob" style="left:673px;top:390px;width:110px;height:19px;border-radius:9px"></div>
<div style="left:1070px;top:320px;width:210px;height:19px;background:linear-gradient(#ff9a66,#fb7a3e 45%,#fb7a3e);border:1px solid #5e2e16;border-radius:2px;box-shadow:inset 0 0 0 1px rgba(255,255,255,0.45)"></div>
<div class="t e" style="left:1074px;top:323px;color:#000">D</div>
<svg style="position:absolute;left:1264px;top:323px" width="12" height="12" viewBox="0 0 12 12"><path d="M4 1.3Q5.5 0.6 7 1.3L8.2 5.5L10.8 8.6H0.8L3.2 5.5Z" fill="#fbd03c" stroke="#d8a030" stroke-width="0.8"/><path d="M4.5 9.2H7L5.8 10.6Z" fill="#c89020"/></svg>
<div class="blob" style="left:1080px;top:321px;width:142px;height:19px;border-radius:9px"></div>
<div style="left:1070px;top:343px;width:210px;height:19px;background:linear-gradient(#ff9a66,#fb7a3e 45%,#fb7a3e);border:1px solid #5e2e16;border-radius:2px;box-shadow:inset 0 0 0 1px rgba(255,255,255,0.45)"></div>
<div class="t e" style="left:1074px;top:346px;color:#000">M</div>
<svg style="position:absolute;left:1264px;top:346px" width="12" height="12" viewBox="0 0 12 12"><path d="M4 1.3Q5.5 0.6 7 1.3L8.2 5.5L10.8 8.6H0.8L3.2 5.5Z" fill="#fbd03c" stroke="#d8a030" stroke-width="0.8"/><path d="M4.5 9.2H7L5.8 10.6Z" fill="#c89020"/></svg>
<div class="blob" style="left:1088px;top:344px;width:62px;height:19px;border-radius:9px"></div>
<div style="left:1070px;top:366px;width:210px;height:19px;background:linear-gradient(#72a2f0,#4a80e2 45%,#4a80e2);border-radius:2px"></div>
<div class="t e" style="left:1074px;top:369px;color:#eef4ff"><span style="letter-spacing:-0.45px">09</span>:<span style="letter-spacing:-0.45px">00</span> E</div>
<svg style="position:absolute;left:1264px;top:369px" width="12" height="12" viewBox="0 0 12 12"><path d="M4 1.3Q5.5 0.6 7 1.3L8.2 5.5L10.8 8.6H0.8L3.2 5.5Z" fill="#fbd03c" stroke="#d8a030" stroke-width="0.8"/><path d="M4.5 9.2H7L5.8 10.6Z" fill="#c89020"/></svg>
<div class="blob" style="left:1110px;top:367px;width:148px;height:19px;border-radius:9px"></div>
<div style="left:1285px;top:320px;width:210px;height:19px;background:linear-gradient(#72a2f0,#4a80e2 45%,#4a80e2);border:1px solid #1e2e5c;border-radius:2px;box-shadow:inset 0 0 0 1px rgba(255,255,255,0.45)"></div>
<div class="t e" style="left:1289px;top:323px;color:#eef4ff">D</div>
<svg style="position:absolute;left:1479px;top:323px" width="12" height="12" viewBox="0 0 12 12"><path d="M4 1.3Q5.5 0.6 7 1.3L8.2 5.5L10.8 8.6H0.8L3.2 5.5Z" fill="#fbd03c" stroke="#d8a030" stroke-width="0.8"/><path d="M4.5 9.2H7L5.8 10.6Z" fill="#c89020"/></svg>
<div class="blob" style="left:1296px;top:321px;width:126px;height:19px;border-radius:9px"></div>
<div style="left:1285px;top:343px;width:210px;height:19px;background:linear-gradient(#ff9a66,#fb7a3e 45%,#fb7a3e);border:1px solid #5e2e16;border-radius:2px;box-shadow:inset 0 0 0 1px rgba(255,255,255,0.45)"></div>
<div class="t e" style="left:1289px;top:346px;color:#000">L</div>
<svg style="position:absolute;left:1479px;top:346px" width="12" height="12" viewBox="0 0 12 12"><path d="M4 1.3Q5.5 0.6 7 1.3L8.2 5.5L10.8 8.6H0.8L3.2 5.5Z" fill="#fbd03c" stroke="#d8a030" stroke-width="0.8"/><path d="M4.5 9.2H7L5.8 10.6Z" fill="#c89020"/></svg>
<div class="blob" style="left:1292px;top:344px;width:74px;height:19px;border-radius:9px"></div>
<div style="left:1285px;top:366px;width:210px;height:19px;background:linear-gradient(#72a2f0,#4a80e2 45%,#4a80e2);border:1px solid #1e2e5c;border-radius:2px;box-shadow:inset 0 0 0 1px rgba(255,255,255,0.45)"></div>
<div class="t e" style="left:1289px;top:369px;color:#eef4ff">M</div>
<svg style="position:absolute;left:1479px;top:369px" width="12" height="12" viewBox="0 0 12 12"><path d="M4 1.3Q5.5 0.6 7 1.3L8.2 5.5L10.8 8.6H0.8L3.2 5.5Z" fill="#fbd03c" stroke="#d8a030" stroke-width="0.8"/><path d="M4.5 9.2H7L5.8 10.6Z" fill="#c89020"/></svg>
<div class="blob" style="left:1294px;top:367px;width:146px;height:19px;border-radius:9px"></div>
<div style="left:1285px;top:389px;width:210px;height:19px;background:linear-gradient(#72a2f0,#4a80e2 45%,#4a80e2);border-radius:2px"></div>
<div class="t e" style="left:1289px;top:392px;color:#eef4ff"><span style="letter-spacing:-0.45px">08</span>:<span style="letter-spacing:-0.45px">00</span> K</div>
<div class="blob" style="left:1322px;top:390px;width:76px;height:19px;border-radius:9px"></div>
<div style="left:209px;top:463px;width:210px;height:19px;background:linear-gradient(#ccb4ff,#b898fa 45%,#b898fa);border:1px solid #483a70;border-radius:2px;box-shadow:inset 0 0 0 1px rgba(255,255,255,0.45)"></div>
<div class="t e" style="left:213px;top:466px;color:#000">Kalenderwoche <span style="letter-spacing:-0.45px">14</span> <span style="letter-spacing:-0.45px">2017</span></div>
<div style="left:209px;top:486px;width:210px;height:19px;background:linear-gradient(#fdeca4,#f8e084 45%,#f8e084);border:1px solid #6e6030;border-radius:2px;box-shadow:inset 0 0 0 1px rgba(255,255,255,0.45)"></div>
<div class="t e" style="left:213px;top:489px;color:#000">Papier</div>
<svg style="position:absolute;left:403px;top:489px" width="12" height="12" viewBox="0 0 12 12"><path d="M4 1.3Q5.5 0.6 7 1.3L8.2 5.5L10.8 8.6H0.8L3.2 5.5Z" fill="#fbd03c" stroke="#d8a030" stroke-width="0.8"/><path d="M4.5 9.2H7L5.8 10.6Z" fill="#c89020"/></svg>
<div style="left:639px;top:463px;width:211px;height:19px;background:linear-gradient(#fdeca4,#f8e084 45%,#f8e084);border:1px solid #6e6030;border-radius:2px;box-shadow:inset 0 0 0 1px rgba(255,255,255,0.45)"></div>
<div class="t e" style="left:643px;top:466px;color:#000">T</div>
<svg style="position:absolute;left:834px;top:466px" width="12" height="12" viewBox="0 0 12 12"><path d="M4 1.3Q5.5 0.6 7 1.3L8.2 5.5L10.8 8.6H0.8L3.2 5.5Z" fill="#fbd03c" stroke="#d8a030" stroke-width="0.8"/><path d="M4.5 9.2H7L5.8 10.6Z" fill="#c89020"/></svg>
<div class="blob" style="left:648px;top:464px;width:62px;height:19px;border-radius:9px"></div>
<div style="left:1070px;top:463px;width:210px;height:19px;background:linear-gradient(#ff9a66,#fb7a3e 45%,#fb7a3e);border:1px solid #5e2e16;border-radius:2px;box-shadow:inset 0 0 0 1px rgba(255,255,255,0.45)"></div>
<div class="t e" style="left:1074px;top:466px;color:#000">D</div>
<svg style="position:absolute;left:1264px;top:466px" width="12" height="12" viewBox="0 0 12 12"><path d="M4 1.3Q5.5 0.6 7 1.3L8.2 5.5L10.8 8.6H0.8L3.2 5.5Z" fill="#fbd03c" stroke="#d8a030" stroke-width="0.8"/><path d="M4.5 9.2H7L5.8 10.6Z" fill="#c89020"/></svg>
<div class="blob" style="left:1082px;top:464px;width:134px;height:19px;border-radius:9px"></div>
<div style="left:1070px;top:486px;width:210px;height:19px;background:linear-gradient(#ff9a66,#fb7a3e 45%,#fb7a3e);border:1px solid #5e2e16;border-radius:2px;box-shadow:inset 0 0 0 1px rgba(255,255,255,0.45)"></div>
<div class="t e" style="left:1074px;top:489px;color:#000">M</div>
<svg style="position:absolute;left:1264px;top:489px" width="12" height="12" viewBox="0 0 12 12"><path d="M4 1.3Q5.5 0.6 7 1.3L8.2 5.5L10.8 8.6H0.8L3.2 5.5Z" fill="#fbd03c" stroke="#d8a030" stroke-width="0.8"/><path d="M4.5 9.2H7L5.8 10.6Z" fill="#c89020"/></svg>
<div class="blob" style="left:1085px;top:487px;width:65px;height:19px;border-radius:9px"></div>
<div style="left:1500px;top:463px;width:210px;height:19px;background:linear-gradient(#b8eaf2,#9cdae4 45%,#9cdae4);border:1px solid #3a5a62;border-radius:2px;box-shadow:inset 0 0 0 1px rgba(255,255,255,0.45)"></div>
<div class="t e" style="left:1504px;top:466px;color:#000">K</div>
<svg style="position:absolute;left:1694px;top:466px" width="12" height="12" viewBox="0 0 12 12"><path d="M4 1.3Q5.5 0.6 7 1.3L8.2 5.5L10.8 8.6H0.8L3.2 5.5Z" fill="#fbd03c" stroke="#d8a030" stroke-width="0.8"/><path d="M4.5 9.2H7L5.8 10.6Z" fill="#c89020"/></svg>
<div class="blob" style="left:1513px;top:464px;width:62px;height:19px;border-radius:9px"></div>
<div style="left:1500px;top:486px;width:210px;height:19px;background:linear-gradient(#48c080,#1fa35f 45%,#1fa35f);border:1px solid #123c28;border-radius:2px;box-shadow:inset 0 0 0 1px rgba(255,255,255,0.45)"></div>
<div class="t e" style="left:1504px;top:489px;color:#eef4ff">Palmsonntag</div>
<div style="left:1500px;top:509px;width:210px;height:19px;background:linear-gradient(#72a2f0,#4a80e2 45%,#4a80e2);border:1px solid #1e2e5c;border-radius:2px;box-shadow:inset 0 0 0 1px rgba(255,255,255,0.45)"></div>
<div class="t e" style="left:1504px;top:512px;color:#eef4ff">Palmsonntag</div>
<svg style="position:absolute;left:1694px;top:512px" width="12" height="12" viewBox="0 0 12 12"><path d="M4 1.3Q5.5 0.6 7 1.3L8.2 5.5L10.8 8.6H0.8L3.2 5.5Z" fill="#fbd03c" stroke="#d8a030" stroke-width="0.8"/><path d="M4.5 9.2H7L5.8 10.6Z" fill="#c89020"/></svg>
<div style="left:1500px;top:532px;width:210px;height:19px;background:linear-gradient(#ff9a66,#fb7a3e 45%,#fb7a3e);border:1px solid #5e2e16;border-radius:2px;box-shadow:inset 0 0 0 1px rgba(255,255,255,0.45)"></div>
<div class="t e" style="left:1504px;top:535px;color:#000">Palmsonntag</div>
<div style="left:1702px;top:534px;width:1px;height:15px;background:#ffc4a0"></div>
<div style="left:209px;top:606px;width:210px;height:19px;background:linear-gradient(#ccb4ff,#b898fa 45%,#b898fa);border:1px solid #483a70;border-radius:2px;box-shadow:inset 0 0 0 1px rgba(255,255,255,0.45)"></div>
<div class="t e" style="left:213px;top:609px;color:#000">Kalenderwoche <span style="letter-spacing:-0.45px">15</span> <span style="letter-spacing:-0.45px">2017</span></div>
<div style="left:424px;top:606px;width:210px;height:19px;background:linear-gradient(#fdeca4,#f8e084 45%,#f8e084);border:1px solid #6e6030;border-radius:2px;box-shadow:inset 0 0 0 1px rgba(255,255,255,0.45)"></div>
<div class="t e" style="left:428px;top:609px;color:#000">Gelber Sack</div>
<svg style="position:absolute;left:618px;top:609px" width="12" height="12" viewBox="0 0 12 12"><path d="M4 1.3Q5.5 0.6 7 1.3L8.2 5.5L10.8 8.6H0.8L3.2 5.5Z" fill="#fbd03c" stroke="#d8a030" stroke-width="0.8"/><path d="M4.5 9.2H7L5.8 10.6Z" fill="#c89020"/></svg>
<div style="left:424px;top:629px;width:210px;height:19px;background:linear-gradient(#72a2f0,#4a80e2 45%,#4a80e2);border-radius:2px"></div>
<div class="t e" style="left:428px;top:632px;color:#eef4ff"><span style="letter-spacing:-0.45px">07</span>:<span style="letter-spacing:-0.45px">08</span> Vollmond</div>
<div style="left:639px;top:606px;width:211px;height:19px;background:linear-gradient(#fdeca4,#f8e084 45%,#f8e084);border:1px solid #6e6030;border-radius:2px;box-shadow:inset 0 0 0 1px rgba(255,255,255,0.45)"></div>
<div class="t e" style="left:643px;top:609px;color:#000">T</div>
<svg style="position:absolute;left:834px;top:609px" width="12" height="12" viewBox="0 0 12 12"><path d="M4 1.3Q5.5 0.6 7 1.3L8.2 5.5L10.8 8.6H0.8L3.2 5.5Z" fill="#fbd03c" stroke="#d8a030" stroke-width="0.8"/><path d="M4.5 9.2H7L5.8 10.6Z" fill="#c89020"/></svg>
<div class="blob" style="left:652px;top:607px;width:58px;height:19px;border-radius:9px"></div>
<div style="left:639px;top:629px;width:211px;height:19px;background:linear-gradient(#72a2f0,#4a80e2 45%,#4a80e2);border-radius:2px"></div>
<div class="t e" style="left:643px;top:632px;color:#eef4ff"><span style="letter-spacing:-0.45px">09</span>:<span style="letter-spacing:-0.45px">00</span></div>
<svg style="position:absolute;left:834px;top:632px" width="12" height="12" viewBox="0 0 12 12"><path d="M4 1.3Q5.5 0.6 7 1.3L8.2 5.5L10.8 8.6H0.8L3.2 5.5Z" fill="#fbd03c" stroke="#d8a030" stroke-width="0.8"/><path d="M4.5 9.2H7L5.8 10.6Z" fill="#c89020"/></svg>
<div class="blob" style="left:675px;top:630px;width:125px;height:19px;border-radius:9px"></div>
<div style="left:855px;top:606px;width:210px;height:19px;background:linear-gradient(#72a2f0,#4a80e2 45%,#4a80e2);border:1px solid #1e2e5c;border-radius:2px;box-shadow:inset 0 0 0 1px rgba(255,255,255,0.45)"></div>
<div class="t e" style="left:859px;top:609px;color:#eef4ff">Gründonnerstag</div>
<svg style="position:absolute;left:1049px;top:609px" width="12" height="12" viewBox="0 0 12 12"><path d="M4 1.3Q5.5 0.6 7 1.3L8.2 5.5L10.8 8.6H0.8L3.2 5.5Z" fill="#fbd03c" stroke="#d8a030" stroke-width="0.8"/><path d="M4.5 9.2H7L5.8 10.6Z" fill="#c89020"/></svg>
<div style="left:1070px;top:606px;width:210px;height:19px;background:linear-gradient(#ff9a66,#fb7a3e 45%,#fb7a3e);border:1px solid #5e2e16;border-radius:2px;box-shadow:inset 0 0 0 1px rgba(255,255,255,0.45)"></div>
<div class="t e" style="left:1074px;top:609px;color:#000">Da</div>
<svg style="position:absolute;left:1264px;top:609px" width="12" height="12" viewBox="0 0 12 12"><path d="M4 1.3Q5.5 0.6 7 1.3L8.2 5.5L10.8 8.6H0.8L3.2 5.5Z" fill="#fbd03c" stroke="#d8a030" stroke-width="0.8"/><path d="M4.5 9.2H7L5.8 10.6Z" fill="#c89020"/></svg>
<div class="blob" style="left:1086px;top:607px;width:140px;height:19px;border-radius:9px"></div>
<div style="left:1070px;top:629px;width:210px;height:19px;background:linear-gradient(#48c080,#1fa35f 45%,#1fa35f);border:1px solid #123c28;border-radius:2px;box-shadow:inset 0 0 0 1px rgba(255,255,255,0.45)"></div>
<div class="t e" style="left:1074px;top:632px;color:#eef4ff">Karfreitag</div>
<div style="left:1070px;top:652px;width:210px;height:19px;background:linear-gradient(#72a2f0,#4a80e2 45%,#4a80e2);border:1px solid #1e2e5c;border-radius:2px;box-shadow:inset 0 0 0 1px rgba(255,255,255,0.45)"></div>
<div class="t e" style="left:1074px;top:655px;color:#eef4ff">Karfreitag</div>
<svg style="position:absolute;left:1264px;top:655px" width="12" height="12" viewBox="0 0 12 12"><path d="M4 1.3Q5.5 0.6 7 1.3L8.2 5.5L10.8 8.6H0.8L3.2 5.5Z" fill="#fbd03c" stroke="#d8a030" stroke-width="0.8"/><path d="M4.5 9.2H7L5.8 10.6Z" fill="#c89020"/></svg>
<div style="left:1070px;top:675px;width:210px;height:19px;background:linear-gradient(#ff9a66,#fb7a3e 45%,#fb7a3e);border:1px solid #5e2e16;border-radius:2px;box-shadow:inset 0 0 0 1px rgba(255,255,255,0.45)"></div>
<div class="t e" style="left:1074px;top:678px;color:#000">M</div>
<svg style="position:absolute;left:1264px;top:678px" width="12" height="12" viewBox="0 0 12 12"><path d="M4 1.3Q5.5 0.6 7 1.3L8.2 5.5L10.8 8.6H0.8L3.2 5.5Z" fill="#fbd03c" stroke="#d8a030" stroke-width="0.8"/><path d="M4.5 9.2H7L5.8 10.6Z" fill="#c89020"/></svg>
<div class="blob" style="left:1086px;top:676px;width:56px;height:19px;border-radius:9px"></div>
<div style="left:1285px;top:606px;width:210px;height:19px;background:linear-gradient(#72a2f0,#4a80e2 45%,#4a80e2);border-radius:2px"></div>
<div class="t e" style="left:1289px;top:609px;color:#eef4ff"><span style="letter-spacing:-0.45px">08</span>:<span style="letter-spacing:-0.45px">00</span></div>
<div class="blob" style="left:1322px;top:607px;width:71px;height:19px;border-radius:9px"></div>
<div style="left:1500px;top:606px;width:210px;height:19px;background:linear-gradient(#72a2f0,#4a80e2 45%,#4a80e2);border:1px solid #1e2e5c;border-radius:2px;box-shadow:inset 0 0 0 1px rgba(255,255,255,0.45)"></div>
<div class="t e" style="left:1504px;top:609px;color:#eef4ff">Ostersonntag</div>
<svg style="position:absolute;left:1694px;top:609px" width="12" height="12" viewBox="0 0 12 12"><path d="M4 1.3Q5.5 0.6 7 1.3L8.2 5.5L10.8 8.6H0.8L3.2 5.5Z" fill="#fbd03c" stroke="#d8a030" stroke-width="0.8"/><path d="M4.5 9.2H7L5.8 10.6Z" fill="#c89020"/></svg>
<div style="left:1500px;top:629px;width:210px;height:19px;background:linear-gradient(#48c080,#1fa35f 45%,#1fa35f);border:1px solid #123c28;border-radius:2px;box-shadow:inset 0 0 0 1px rgba(255,255,255,0.45)"></div>
<div class="t e" style="left:1504px;top:632px;color:#eef4ff">Ostersonntag</div>
<div style="left:209px;top:750px;width:210px;height:19px;background:linear-gradient(#ccb4ff,#b898fa 45%,#b898fa);border:1px solid #483a70;border-radius:2px;box-shadow:inset 0 0 0 1px rgba(255,255,255,0.45)"></div>
<div class="t e" style="left:213px;top:753px;color:#000">Kalenderwoche <span style="letter-spacing:-0.45px">16</span> <span style="letter-spacing:-0.45px">2017</span></div>
<div style="left:209px;top:773px;width:210px;height:19px;background:linear-gradient(#48c080,#1fa35f 45%,#1fa35f);border:1px solid #123c28;border-radius:2px;box-shadow:inset 0 0 0 1px rgba(255,255,255,0.45)"></div>
<div class="t e" style="left:213px;top:776px;color:#eef4ff">Ostermontag</div>
<div style="left:209px;top:796px;width:210px;height:19px;background:linear-gradient(#72a2f0,#4a80e2 45%,#4a80e2);border:1px solid #1e2e5c;border-radius:2px;box-shadow:inset 0 0 0 1px rgba(255,255,255,0.45)"></div>
<div class="t e" style="left:213px;top:799px;color:#eef4ff">Ostermontag</div>
<svg style="position:absolute;left:403px;top:799px" width="12" height="12" viewBox="0 0 12 12"><path d="M4 1.3Q5.5 0.6 7 1.3L8.2 5.5L10.8 8.6H0.8L3.2 5.5Z" fill="#fbd03c" stroke="#d8a030" stroke-width="0.8"/><path d="M4.5 9.2H7L5.8 10.6Z" fill="#c89020"/></svg>
<div style="left:209px;top:819px;width:210px;height:19px;background:linear-gradient(#ff9a66,#fb7a3e 45%,#fb7a3e);border-radius:2px"></div>
<div class="t e" style="left:213px;top:822px;color:#000"><span style="letter-spacing:-0.45px">10</span>:<span style="letter-spacing:-0.45px">00</span></div>
<svg style="position:absolute;left:403px;top:822px" width="12" height="12" viewBox="0 0 12 12"><path d="M4 1.3Q5.5 0.6 7 1.3L8.2 5.5L10.8 8.6H0.8L3.2 5.5Z" fill="#fbd03c" stroke="#d8a030" stroke-width="0.8"/><path d="M4.5 9.2H7L5.8 10.6Z" fill="#c89020"/></svg>
<div class="blob" style="left:243px;top:820px;width:149px;height:19px;border-radius:9px"></div>
<div style="left:424px;top:750px;width:210px;height:19px;background:linear-gradient(#b8eaf2,#9cdae4 45%,#9cdae4);border:1px solid #3a5a62;border-radius:2px;box-shadow:inset 0 0 0 1px rgba(255,255,255,0.45)"></div>
<svg style="position:absolute;left:618px;top:753px" width="12" height="12" viewBox="0 0 12 12"><path d="M4 1.3Q5.5 0.6 7 1.3L8.2 5.5L10.8 8.6H0.8L3.2 5.5Z" fill="#fbd03c" stroke="#d8a030" stroke-width="0.8"/><path d="M4.5 9.2H7L5.8 10.6Z" fill="#c89020"/></svg>
<div class="blob" style="left:428px;top:751px;width:102px;height:19px;border-radius:9px"></div>
<div style="left:639px;top:750px;width:211px;height:19px;background:linear-gradient(#fdeca4,#f8e084 45%,#f8e084);border:1px solid #6e6030;border-radius:2px;box-shadow:inset 0 0 0 1px rgba(255,255,255,0.45)"></div>
<svg style="position:absolute;left:834px;top:753px" width="12" height="12" viewBox="0 0 12 12"><path d="M4 1.3Q5.5 0.6 7 1.3L8.2 5.5L10.8 8.6H0.8L3.2 5.5Z" fill="#fbd03c" stroke="#d8a030" stroke-width="0.8"/><path d="M4.5 9.2H7L5.8 10.6Z" fill="#c89020"/></svg>
<div class="blob" style="left:643px;top:751px;width:74px;height:19px;border-radius:9px"></div>
<div style="left:855px;top:750px;width:210px;height:19px;background:linear-gradient(#72a2f0,#4a80e2 45%,#4a80e2);border-radius:2px"></div>
<div class="t e" style="left:859px;top:753px;color:#eef4ff"><span style="letter-spacing:-0.45px">09</span>:<span style="letter-spacing:-0.45px">00</span></div>
<svg style="position:absolute;left:1049px;top:753px" width="12" height="12" viewBox="0 0 12 12"><path d="M4 1.3Q5.5 0.6 7 1.3L8.2 5.5L10.8 8.6H0.8L3.2 5.5Z" fill="#fbd03c" stroke="#d8a030" stroke-width="0.8"/><path d="M4.5 9.2H7L5.8 10.6Z" fill="#c89020"/></svg>
<div class="blob" style="left:890px;top:751px;width:100px;height:19px;border-radius:9px"></div>
<div style="left:1070px;top:750px;width:210px;height:19px;background:linear-gradient(#ff9a66,#fb7a3e 45%,#fb7a3e);border:1px solid #5e2e16;border-radius:2px;box-shadow:inset 0 0 0 1px rgba(255,255,255,0.45)"></div>
<div class="t e" style="left:1074px;top:753px;color:#000">Daten sichern auch extern</div>
<svg style="position:absolute;left:1264px;top:753px" width="12" height="12" viewBox="0 0 12 12"><path d="M4 1.3Q5.5 0.6 7 1.3L8.2 5.5L10.8 8.6H0.8L3.2 5.5Z" fill="#fbd03c" stroke="#d8a030" stroke-width="0.8"/><path d="M4.5 9.2H7L5.8 10.6Z" fill="#c89020"/></svg>
<div style="left:1070px;top:773px;width:210px;height:19px;background:linear-gradient(#ff9a66,#fb7a3e 45%,#fb7a3e);border:1px solid #5e2e16;border-radius:2px;box-shadow:inset 0 0 0 1px rgba(255,255,255,0.45)"></div>
<div class="t e" style="left:1074px;top:776px;color:#000">M</div>
<svg style="position:absolute;left:1264px;top:776px" width="12" height="12" viewBox="0 0 12 12"><path d="M4 1.3Q5.5 0.6 7 1.3L8.2 5.5L10.8 8.6H0.8L3.2 5.5Z" fill="#fbd03c" stroke="#d8a030" stroke-width="0.8"/><path d="M4.5 9.2H7L5.8 10.6Z" fill="#c89020"/></svg>
<div class="blob" style="left:1080px;top:774px;width:70px;height:19px;border-radius:9px"></div>
<div style="left:209px;top:893px;width:210px;height:19px;background:linear-gradient(#ccb4ff,#b898fa 45%,#b898fa);border:1px solid #483a70;border-radius:2px;box-shadow:inset 0 0 0 1px rgba(255,255,255,0.45)"></div>
<div class="t e" style="left:213px;top:896px;color:#000">Kalenderwoche <span style="letter-spacing:-0.45px">17</span> <span style="letter-spacing:-0.45px">2017</span></div>
<div style="left:639px;top:893px;width:211px;height:19px;background:linear-gradient(#ff9a66,#fb7a3e 45%,#fb7a3e);border:1px solid #5e2e16;border-radius:2px;box-shadow:inset 0 0 0 1px rgba(255,255,255,0.45)"></div>
<svg style="position:absolute;left:834px;top:896px" width="12" height="12" viewBox="0 0 12 12"><path d="M4 1.3Q5.5 0.6 7 1.3L8.2 5.5L10.8 8.6H0.8L3.2 5.5Z" fill="#fbd03c" stroke="#d8a030" stroke-width="0.8"/><path d="M4.5 9.2H7L5.8 10.6Z" fill="#c89020"/></svg>
<div class="blob" style="left:640px;top:894px;width:115px;height:19px;border-radius:9px"></div>
<div style="left:639px;top:916px;width:211px;height:19px;background:linear-gradient(#fdeca4,#f8e084 45%,#f8e084);border:1px solid #6e6030;border-radius:2px;box-shadow:inset 0 0 0 1px rgba(255,255,255,0.45)"></div>
<div class="t e" style="left:643px;top:919px;color:#000">Ta</div>
<svg style="position:absolute;left:834px;top:919px" width="12" height="12" viewBox="0 0 12 12"><path d="M4 1.3Q5.5 0.6 7 1.3L8.2 5.5L10.8 8.6H0.8L3.2 5.5Z" fill="#fbd03c" stroke="#d8a030" stroke-width="0.8"/><path d="M4.5 9.2H7L5.8 10.6Z" fill="#c89020"/></svg>
<div class="blob" style="left:653px;top:917px;width:57px;height:19px;border-radius:9px"></div>
<div style="left:1070px;top:893px;width:210px;height:19px;background:linear-gradient(#ff9a66,#fb7a3e 45%,#fb7a3e);border:1px solid #5e2e16;border-radius:2px;box-shadow:inset 0 0 0 1px rgba(255,255,255,0.45)"></div>
<div class="t e" style="left:1074px;top:896px;color:#000">Daten sichern auch extern</div>
<svg style="position:absolute;left:1264px;top:896px" width="12" height="12" viewBox="0 0 12 12"><path d="M4 1.3Q5.5 0.6 7 1.3L8.2 5.5L10.8 8.6H0.8L3.2 5.5Z" fill="#fbd03c" stroke="#d8a030" stroke-width="0.8"/><path d="M4.5 9.2H7L5.8 10.6Z" fill="#c89020"/></svg>
<div style="left:1070px;top:916px;width:210px;height:19px;background:linear-gradient(#ff9a66,#fb7a3e 45%,#fb7a3e);border:1px solid #5e2e16;border-radius:2px;box-shadow:inset 0 0 0 1px rgba(255,255,255,0.45)"></div>
<div class="t e" style="left:1074px;top:919px;color:#000">M</div>
<svg style="position:absolute;left:1264px;top:919px" width="12" height="12" viewBox="0 0 12 12"><path d="M4 1.3Q5.5 0.6 7 1.3L8.2 5.5L10.8 8.6H0.8L3.2 5.5Z" fill="#fbd03c" stroke="#d8a030" stroke-width="0.8"/><path d="M4.5 9.2H7L5.8 10.6Z" fill="#c89020"/></svg>
<div class="blob" style="left:1080px;top:917px;width:68px;height:19px;border-radius:9px"></div>
<div style="left:1070px;top:939px;width:210px;height:19px;background:linear-gradient(#72a2f0,#4a80e2 45%,#4a80e2);border:1px solid #1e2e5c;border-radius:2px;box-shadow:inset 0 0 0 1px rgba(255,255,255,0.45)"></div>
<svg style="position:absolute;left:1264px;top:942px" width="12" height="12" viewBox="0 0 12 12"><path d="M4 1.3Q5.5 0.6 7 1.3L8.2 5.5L10.8 8.6H0.8L3.2 5.5Z" fill="#fbd03c" stroke="#d8a030" stroke-width="0.8"/><path d="M4.5 9.2H7L5.8 10.6Z" fill="#c89020"/></svg>
<div class="blob" style="left:1075px;top:940px;width:183px;height:19px;border-radius:9px"></div>
<div style="left:1285px;top:893px;width:210px;height:19px;background:linear-gradient(#72a2f0,#4a80e2 45%,#4a80e2);border-radius:2px"></div>
<div class="t e" style="left:1289px;top:896px;color:#eef4ff"><span style="letter-spacing:-0.45px">08</span>:<span style="letter-spacing:-0.45px">00</span></div>
<div class="blob" style="left:1318px;top:894px;width:77px;height:19px;border-radius:9px"></div>
<div style="left:1714px;top:88px;width:206px;height:930px;background:#b3cbf5"></div>
<div style="left:1713px;top:88px;width:1px;height:35px;background:#8fa5cc"></div>
<svg style="position:absolute;left:1715px;top:498px" width="5" height="8" viewBox="0 0 5 8"><path d="M0 0L4 4L0 8Z" fill="#203c7c"/></svg>
<div style="left:1717px;top:509px;width:1px;height:90px;background:repeating-linear-gradient(#1c2c60 0 1px,transparent 1px 3px)"></div>
<svg style="position:absolute;left:1715px;top:601px" width="5" height="8" viewBox="0 0 5 8"><path d="M0 0L4 4L0 8Z" fill="#203c7c"/></svg>
<div style="left:1720px;top:88px;width:1px;height:930px;background:#6f86b0"></div>
<div style="left:1721px;top:88px;width:199px;height:26px;background:linear-gradient(#5585da,#3a68c4 50%,#2c58b6)"></div>
<div class="t" style="left:1731px;top:93px;font-weight:bold;color:#f4f7ff;font-size:13px;line-height:16px;letter-spacing:-0.7px">Aufgaben</div>
<svg style="position:absolute;left:1845px;top:95px" width="13" height="11" viewBox="0 0 13 11"><path d="M1 5.5L6 1V4H12V7H6V10Z" fill="#d8e2f4"/></svg>
<svg style="position:absolute;left:1874px;top:95px" width="13" height="11" viewBox="0 0 13 11"><path d="M12 5.5L7 1V4H1V7H7V10Z" fill="#d8e2f4"/></svg>
<div style="left:1903px;top:94px;width:15px;height:14px;background:linear-gradient(#f07878,#c83030);border:1px solid #a82424;border-radius:2px"></div>
<svg style="position:absolute;left:1906px;top:97px" width="9" height="9" viewBox="0 0 9 9"><path d="M1.5 1.5L7.5 7.5M7.5 1.5L1.5 7.5" stroke="#fff" stroke-width="2"/></svg>
<div style="left:1729px;top:120px;width:13px;height:13px;border:1px solid #5a6f94;background:#fff"></div>
<div class="t e" style="left:1750px;top:120px;">Abgeschlossene anzeigen</div>
<div style="left:1721px;top:141px;width:198px;height:845px;background:#fff;border:1px solid #8ea6cf"></div>
<div style="left:1723px;top:143px;width:195px;height:18px;background:linear-gradient(#fbfcfd,#eef1f4);border-bottom:1px solid #d8d8d8"></div>
<div style="left:1725px;top:145px;width:13px;height:13px;border:1px solid #404040;background:#fff"></div>
<svg style="position:absolute;left:1727px;top:147px" width="10" height="9" viewBox="0 0 10 9"><path d="M1 4.5L3.5 7.5L9 1" fill="none" stroke="#2aa02a" stroke-width="2"/></svg>
<div style="left:1741px;top:143px;width:1px;height:18px;background:#e0e0e0"></div>
<div style="left:1757px;top:143px;width:1px;height:18px;background:#e0e0e0"></div>
<div style="left:1897px;top:143px;width:1px;height:18px;background:#e0e0e0"></div>
<svg style="position:absolute;left:1747px;top:146px" width="5" height="12" viewBox="0 0 5 12"><path d="M2.5 1V7" stroke="#111" stroke-width="2.4" stroke-linecap="round"/><circle cx="2.5" cy="10" r="1.3" fill="#111"/></svg>
<div class="t" style="left:1764px;top:145px;">Titel</div>
<svg style="position:absolute;left:1901px;top:145px" width="14" height="14" viewBox="0 0 14 14"><path d="M1.5 9.5V1.5H10.5V7" fill="none" stroke="#111" stroke-width="1.2"/><path d="M1 4.2H11M5.5 4V9.5M1.5 9.5H6" stroke="#111" stroke-width="1.2"/><path d="M7 9H13L10 12Z" fill="#111"/></svg>
<div style="left:1725px;top:992px;width:191px;height:20px;background:#fff;border:1px solid #8ea6cf"></div>
<div class="t e" style="left:1729px;top:996px;color:#6d6d6d">Bitte einen Kalender auswählen, de</div>
<div style="left:0px;top:1018px;width:1920px;height:23px;background:#b3cbf5;border-top:1px solid #6f86b0"></div>
<div style="left:107px;top:1020px;width:1px;height:20px;background:#8aa0c8"></div>
<div style="left:209px;top:1020px;width:1px;height:20px;background:#8aa0c8"></div>
<div style="left:321px;top:1020px;width:1px;height:20px;background:#8aa0c8"></div>
<div style="left:430px;top:1020px;width:1px;height:20px;background:#8aa0c8"></div>
<div style="left:531px;top:1020px;width:1px;height:20px;background:#8aa0c8"></div>
<div style="left:551px;top:1020px;width:1px;height:20px;background:#8aa0c8"></div>
<div style="left:1575px;top:1020px;width:1px;height:20px;background:#8aa0c8"></div>
<div style="left:1792px;top:1020px;width:1px;height:20px;background:#8aa0c8"></div>
<div style="left:1900px;top:1020px;width:1px;height:20px;background:#8aa0c8"></div>
<svg style="position:absolute;left:5px;top:1023px" width="16" height="12" viewBox="0 0 16 12"><rect width="16" height="12" fill="#283c8c"/><path d="M0 0L16 12M16 0L0 12" stroke="#fff" stroke-width="2.2"/><path d="M0 0L16 12M16 0L0 12" stroke="#c02030" stroke-width="0.8"/><path d="M8 0V12M0 6H16" stroke="#fff" stroke-width="3.5"/><path d="M8 0V12M0 6H16" stroke="#c02030" stroke-width="2"/></svg>
<div style="left:110px;top:1024px;width:17px;height:11px;background:linear-gradient(#d02030 33%,#fff 33%,#fff 66%,#d02030 66%)"></div>
<svg style="position:absolute;left:213px;top:1024px" width="17" height="11" viewBox="0 0 17 11"><rect width="17" height="11" fill="#fff"/><rect width="17" height="3.7" fill="#111"/><rect y="7.3" width="17" height="3.7" fill="#1a8a3a"/><path d="M0 0L7 5.5L0 11Z" fill="#d02030"/></svg>
<div style="left:325px;top:1024px;width:17px;height:11px;background:linear-gradient(#c02030 18%,#fff 18%,#fff 33%,#283c8c 33%,#283c8c 67%,#fff 67%,#fff 82%,#c02030 82%)"></div>
<svg style="position:absolute;left:434px;top:1024px" width="17" height="11" viewBox="0 0 17 11"><rect width="17" height="11" fill="#283c8c"/><path d="M0 0L8 5M8 0L0 5" stroke="#fff" stroke-width="1.3"/><path d="M4 0V5M0 2.5H8" stroke="#c02030" stroke-width="1.3"/><circle cx="12" cy="7" r="1" fill="#fff"/></svg>
<svg style="position:absolute;left:534px;top:1021px" width="16" height="16" viewBox="0 0 16 16"><rect x="1" y="2" width="9" height="7" fill="#3a6ad0" stroke="#123"/><rect x="5" y="5" width="10" height="8" fill="#2a5ac8" stroke="#123"/><path d="M8 14H12" stroke="#555" stroke-width="2"/></svg>
<div class="blob" style="left:26px;top:1021px;width:44px;height:20px;border-radius:10px"></div>
<div class="blob" style="left:130px;top:1021px;width:44px;height:20px;border-radius:10px"></div>
<div class="t e" style="left:74px;top:1023px;"><span style="letter-spacing:-0.45px">07</span>:<span style="letter-spacing:-0.45px">14</span></div>
<div class="t e" style="left:178px;top:1023px;"><span style="letter-spacing:-0.45px">08</span>:<span style="letter-spacing:-0.45px">14</span></div>
<div class="t e" style="left:233px;top:1023px;">Jordanien: <span style="letter-spacing:-0.45px">09</span>:<span style="letter-spacing:-0.45px">14</span></div>
<div class="t e" style="left:346px;top:1023px;">Bangkok: <span style="letter-spacing:-0.45px">13</span>:<span style="letter-spacing:-0.45px">14</span></div>
<div class="t e" style="left:454px;top:1023px;">Sydney: <span style="letter-spacing:-0.45px">16</span>:<span style="letter-spacing:-0.45px">14</span></div>
<div class="t" style="left:562px;top:1023px;">9962 Nachrichten in "Alle Nachrichten" gelöscht</div>
<div class="t e" style="left:1585px;top:1023px;letter-spacing:-0.05px">Synchronisation beendet um <span style="letter-spacing:-0.45px">08</span>:<span style="letter-spacing:-0.45px">13</span>:<span style="letter-spacing:-0.45px">08</span></div>
<svg style="position:absolute;left:1800px;top:1022px" width="14" height="15" viewBox="0 0 14 15"><rect x="1" y="2" width="12" height="12" fill="#fff" stroke="#666"/><rect x="1" y="2" width="12" height="3" fill="#d04040"/><text x="7" y="13" font-size="8" font-family="Liberation Sans" text-anchor="middle" fill="#223" font-weight="bold">5</text></svg>
<div class="t" style="left:1820px;top:1023px;">Tagesplan</div>
<svg style="position:absolute;left:1880px;top:1026px" width="11" height="8" viewBox="0 0 11 8"><path d="M1 1L5.5 6L10 1" fill="none" stroke="#111" stroke-width="1.6"/></svg>
<svg style="position:absolute;left:1903px;top:1021px" width="14" height="17" viewBox="0 0 14 17"><path d="M2 1V16" stroke="#333" stroke-width="1.5"/><path d="M2 2Q7 0 13 3V12Q7 9 2 11Z" fill="#3a3f48"/></svg>
</body></html>
